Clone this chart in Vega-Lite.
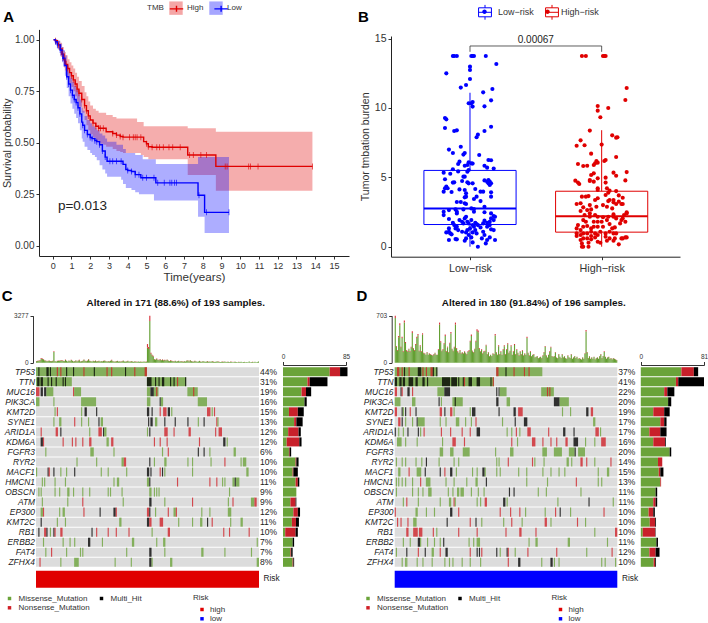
{"$schema":"https://vega.github.io/schema/vega-lite/v6.json","width":708,"height":623,"autosize":"none","padding":0,"background":"white",
"config":{"font":"Liberation Sans","view":{"stroke":null},"axis":{"grid":false,"labelOverlap":false,"labelBound":false,"labelFlush":false}},
"resolve":{"scale":{"x":"independent","y":"independent","fill":"independent","stroke":"independent"},"axis":{"x":"independent","y":"independent"},"legend":{"fill":"independent","stroke":"independent"}},
"datasets":{
"km":[
{"g":"High","t":0.05,"s":1,"lo":1,"hi":1,"c":0},{"g":"High","t":0.15,"s":0.995,"lo":0.985,"hi":1,"c":1},{"g":"High","t":0.25,"s":0.98,"lo":0.96,"hi":1,"c":0},{"g":"High","t":0.3,"s":0.975,"lo":0.95,"hi":0.995,"c":1},{"g":"High","t":0.4,"s":0.955,"lo":0.925,"hi":0.985,"c":0},{"g":"High","t":0.5,"s":0.93,"lo":0.895,"hi":0.965,"c":1},{"g":"High","t":0.6,"s":0.905,"lo":0.865,"hi":0.945,"c":0},{"g":"High","t":0.65,"s":0.895,"lo":0.85,"hi":0.94,"c":1},{"g":"High","t":0.7,"s":0.88,"lo":0.835,"hi":0.925,"c":0},{"g":"High","t":0.8,"s":0.86,"lo":0.81,"hi":0.905,"c":1},{"g":"High","t":0.9,"s":0.84,"lo":0.79,"hi":0.89,"c":0},{"g":"High","t":1,"s":0.825,"lo":0.77,"hi":0.875,"c":1},{"g":"High","t":1.1,"s":0.805,"lo":0.75,"hi":0.86,"c":1},{"g":"High","t":1.2,"s":0.785,"lo":0.725,"hi":0.84,"c":1},{"g":"High","t":1.3,"s":0.76,"lo":0.7,"hi":0.82,"c":1},{"g":"High","t":1.4,"s":0.74,"lo":0.675,"hi":0.8,"c":1},{"g":"High","t":1.55,"s":0.71,"lo":0.645,"hi":0.775,"c":1},{"g":"High","t":1.7,"s":0.68,"lo":0.61,"hi":0.745,"c":1},{"g":"High","t":1.8,"s":0.655,"lo":0.585,"hi":0.725,"c":1},{"g":"High","t":1.9,"s":0.63,"lo":0.56,"hi":0.7,"c":1},{"g":"High","t":2,"s":0.61,"lo":0.54,"hi":0.68,"c":0},{"g":"High","t":2.15,"s":0.595,"lo":0.525,"hi":0.665,"c":1},{"g":"High","t":2.3,"s":0.58,"lo":0.51,"hi":0.655,"c":1},{"g":"High","t":2.45,"s":0.57,"lo":0.5,"hi":0.645,"c":1},{"g":"High","t":2.55,"s":0.57,"lo":0.495,"hi":0.645,"c":1},{"g":"High","t":2.7,"s":0.57,"lo":0.49,"hi":0.645,"c":1},{"g":"High","t":2.85,"s":0.553,"lo":0.48,"hi":0.634,"c":0},{"g":"High","t":3.2,"s":0.545,"lo":0.47,"hi":0.625,"c":1},{"g":"High","t":3.4,"s":0.537,"lo":0.46,"hi":0.618,"c":1},{"g":"High","t":3.6,"s":0.53,"lo":0.455,"hi":0.618,"c":1},{"g":"High","t":3.75,"s":0.527,"lo":0.45,"hi":0.618,"c":1},{"g":"High","t":4.1,"s":0.527,"lo":0.45,"hi":0.618,"c":1},{"g":"High","t":4.3,"s":0.527,"lo":0.45,"hi":0.618,"c":1},{"g":"High","t":4.4,"s":0.527,"lo":0.45,"hi":0.618,"c":1},{"g":"High","t":4.5,"s":0.527,"lo":0.45,"hi":0.6,"c":1},{"g":"High","t":4.7,"s":0.527,"lo":0.44,"hi":0.6,"c":1},{"g":"High","t":4.85,"s":0.505,"lo":0.43,"hi":0.58,"c":0},{"g":"High","t":5,"s":0.495,"lo":0.43,"hi":0.58,"c":1},{"g":"High","t":5.1,"s":0.48,"lo":0.42,"hi":0.58,"c":1},{"g":"High","t":5.3,"s":0.478,"lo":0.42,"hi":0.58,"c":1},{"g":"High","t":5.55,"s":0.478,"lo":0.42,"hi":0.58,"c":1},{"g":"High","t":5.7,"s":0.478,"lo":0.42,"hi":0.58,"c":1},{"g":"High","t":5.9,"s":0.478,"lo":0.42,"hi":0.58,"c":1},{"g":"High","t":6.2,"s":0.478,"lo":0.42,"hi":0.58,"c":1},{"g":"High","t":6.4,"s":0.478,"lo":0.42,"hi":0.58,"c":1},{"g":"High","t":6.8,"s":0.478,"lo":0.42,"hi":0.58,"c":1},{"g":"High","t":7.2,"s":0.44,"lo":0.343,"hi":0.57,"c":0},{"g":"High","t":7.3,"s":0.44,"lo":0.343,"hi":0.57,"c":1},{"g":"High","t":7.5,"s":0.44,"lo":0.343,"hi":0.57,"c":1},{"g":"High","t":7.9,"s":0.44,"lo":0.343,"hi":0.57,"c":1},{"g":"High","t":8.2,"s":0.44,"lo":0.343,"hi":0.57,"c":1},{"g":"High","t":8.7,"s":0.385,"lo":0.267,"hi":0.553,"c":0},{"g":"High","t":9.2,"s":0.385,"lo":0.267,"hi":0.553,"c":1},{"g":"High","t":9.3,"s":0.385,"lo":0.267,"hi":0.553,"c":1},{"g":"High","t":10.45,"s":0.385,"lo":0.267,"hi":0.553,"c":1},{"g":"High","t":10.55,"s":0.385,"lo":0.267,"hi":0.553,"c":1},{"g":"High","t":10.95,"s":0.385,"lo":0.267,"hi":0.553,"c":1},{"g":"High","t":13.85,"s":0.385,"lo":0.267,"hi":0.553,"c":1},
{"g":"Low","t":0.05,"s":1,"lo":1,"hi":1,"c":0},{"g":"Low","t":0.15,"s":0.99,"lo":0.98,"hi":1,"c":1},{"g":"Low","t":0.25,"s":0.975,"lo":0.955,"hi":0.995,"c":1},{"g":"Low","t":0.4,"s":0.95,"lo":0.92,"hi":0.98,"c":1},{"g":"Low","t":0.5,"s":0.93,"lo":0.89,"hi":0.965,"c":0},{"g":"Low","t":0.55,"s":0.91,"lo":0.87,"hi":0.95,"c":1},{"g":"Low","t":0.65,"s":0.875,"lo":0.825,"hi":0.925,"c":0},{"g":"Low","t":0.75,"s":0.82,"lo":0.765,"hi":0.875,"c":1},{"g":"Low","t":0.85,"s":0.785,"lo":0.725,"hi":0.845,"c":1},{"g":"Low","t":0.95,"s":0.755,"lo":0.69,"hi":0.815,"c":1},{"g":"Low","t":1.05,"s":0.73,"lo":0.665,"hi":0.795,"c":1},{"g":"Low","t":1.15,"s":0.71,"lo":0.64,"hi":0.775,"c":1},{"g":"Low","t":1.25,"s":0.695,"lo":0.62,"hi":0.76,"c":1},{"g":"Low","t":1.35,"s":0.67,"lo":0.595,"hi":0.74,"c":1},{"g":"Low","t":1.45,"s":0.64,"lo":0.56,"hi":0.71,"c":1},{"g":"Low","t":1.55,"s":0.6,"lo":0.52,"hi":0.67,"c":0},{"g":"Low","t":1.6,"s":0.585,"lo":0.505,"hi":0.655,"c":1},{"g":"Low","t":1.7,"s":0.56,"lo":0.48,"hi":0.63,"c":1},{"g":"Low","t":1.85,"s":0.54,"lo":0.465,"hi":0.61,"c":1},{"g":"Low","t":2,"s":0.525,"lo":0.45,"hi":0.595,"c":1},{"g":"Low","t":2.1,"s":0.52,"lo":0.44,"hi":0.58,"c":1},{"g":"Low","t":2.25,"s":0.51,"lo":0.43,"hi":0.57,"c":1},{"g":"Low","t":2.35,"s":0.505,"lo":0.415,"hi":0.56,"c":1},{"g":"Low","t":2.5,"s":0.49,"lo":0.39,"hi":0.545,"c":1},{"g":"Low","t":2.65,"s":0.46,"lo":0.37,"hi":0.535,"c":1},{"g":"Low","t":2.8,"s":0.43,"lo":0.35,"hi":0.52,"c":1},{"g":"Low","t":2.9,"s":0.41,"lo":0.335,"hi":0.505,"c":0},{"g":"Low","t":3.05,"s":0.41,"lo":0.335,"hi":0.505,"c":1},{"g":"Low","t":3.2,"s":0.41,"lo":0.335,"hi":0.505,"c":1},{"g":"Low","t":3.4,"s":0.41,"lo":0.335,"hi":0.49,"c":1},{"g":"Low","t":3.65,"s":0.41,"lo":0.32,"hi":0.49,"c":1},{"g":"Low","t":3.75,"s":0.395,"lo":0.3,"hi":0.47,"c":0},{"g":"Low","t":3.9,"s":0.37,"lo":0.28,"hi":0.45,"c":0},{"g":"Low","t":4,"s":0.365,"lo":0.28,"hi":0.45,"c":1},{"g":"Low","t":4.2,"s":0.36,"lo":0.27,"hi":0.45,"c":1},{"g":"Low","t":4.4,"s":0.345,"lo":0.26,"hi":0.44,"c":1},{"g":"Low","t":4.6,"s":0.345,"lo":0.25,"hi":0.44,"c":1},{"g":"Low","t":4.7,"s":0.33,"lo":0.25,"hi":0.44,"c":0},{"g":"Low","t":4.8,"s":0.33,"lo":0.25,"hi":0.42,"c":1},{"g":"Low","t":5,"s":0.33,"lo":0.25,"hi":0.42,"c":1},{"g":"Low","t":5.4,"s":0.33,"lo":0.22,"hi":0.42,"c":1},{"g":"Low","t":5.5,"s":0.305,"lo":0.22,"hi":0.396,"c":0},{"g":"Low","t":5.6,"s":0.305,"lo":0.22,"hi":0.396,"c":1},{"g":"Low","t":5.95,"s":0.305,"lo":0.22,"hi":0.396,"c":1},{"g":"Low","t":6.25,"s":0.305,"lo":0.22,"hi":0.396,"c":1},{"g":"Low","t":6.35,"s":0.305,"lo":0.22,"hi":0.396,"c":1},{"g":"Low","t":6.5,"s":0.305,"lo":0.22,"hi":0.396,"c":1},{"g":"Low","t":6.6,"s":0.305,"lo":0.22,"hi":0.396,"c":1},{"g":"Low","t":7.75,"s":0.245,"lo":0.14,"hi":0.43,"c":0},{"g":"Low","t":7.8,"s":0.245,"lo":0.14,"hi":0.43,"c":1},{"g":"Low","t":8.1,"s":0.162,"lo":0.062,"hi":0.43,"c":0},{"g":"Low","t":8.2,"s":0.162,"lo":0.062,"hi":0.43,"c":1},{"g":"Low","t":9.4,"s":0.162,"lo":0.062,"hi":0.43,"c":1}
],
"box":[{"g":"Low−risk","pos":1,"xl":0.65,"xr":1.35,"lo":0,"q1":1.6,"med":2.75,"q3":5.5,"hi":11.1},{"g":"High−risk","pos":2,"xl":1.65,"xr":2.35,"lo":0,"q1":1.05,"med":2.2,"q3":4.0,"hi":8.4}],
"bracket":[{"x":1,"y":14.05},{"x":1,"y":14.47},{"x":2,"y":14.47},{"x":2,"y":14.05}],
"pts":[
{"g":"Low−risk","x":0.87,"y":13.75},{"g":"Low−risk","x":0.88,"y":13.75},{"g":"Low−risk","x":0.9,"y":13.75},{"g":"Low−risk","x":1.01,"y":13.75},{"g":"Low−risk","x":1.02,"y":13.75},{"g":"Low−risk","x":1.03,"y":13.75},{"g":"Low−risk","x":1.12,"y":13.75},{"g":"Low−risk","x":1.2,"y":13.17},{"g":"Low−risk","x":1,"y":12.98},{"g":"Low−risk","x":1,"y":12.74},{"g":"Low−risk","x":0.82,"y":12.5},{"g":"Low−risk","x":1,"y":12.09},{"g":"Low−risk","x":0.97,"y":11.66},{"g":"Low−risk","x":0.93,"y":11.47},{"g":"Low−risk","x":1.1,"y":11.13},{"g":"Low−risk","x":1.17,"y":11.37},{"g":"Low−risk","x":1.16,"y":10.55},{"g":"Low−risk","x":0.99,"y":10.34},{"g":"Low−risk","x":1.01,"y":10.34},{"g":"Low−risk","x":1.02,"y":10.43},{"g":"Low−risk","x":1.02,"y":10.1},{"g":"Low−risk","x":1.11,"y":10.12},{"g":"Low−risk","x":0.81,"y":9.28},{"g":"Low−risk","x":0.82,"y":9.18},{"g":"Low−risk","x":0.81,"y":8.56},{"g":"Low−risk","x":0.88,"y":8.34},{"g":"Low−risk","x":0.9,"y":8.39},{"g":"Low−risk","x":1.16,"y":8.65},{"g":"Low−risk","x":1.11,"y":8.34},{"g":"Low−risk","x":1.06,"y":8.08},{"g":"Low−risk","x":1.05,"y":7.89},{"g":"Low−risk","x":0.93,"y":7.21},{"g":"Low−risk","x":0.84,"y":7},{"g":"Low−risk","x":0.95,"y":6.64},{"g":"Low−risk","x":0.96,"y":6.76},{"g":"Low−risk","x":0.87,"y":6.76},{"g":"Low−risk","x":1.07,"y":6.61},{"g":"Low−risk","x":1.14,"y":6.25},{"g":"Low−risk","x":1.16,"y":6.23},{"g":"Low−risk","x":0.92,"y":6.13},{"g":"Low−risk","x":0.91,"y":5.96},{"g":"Low−risk","x":0.99,"y":6.08},{"g":"Low−risk","x":1.01,"y":6.01},{"g":"Low−risk","x":1.02,"y":5.99},{"g":"Low−risk","x":0.96,"y":5.84},{"g":"Low−risk","x":0.98,"y":5.89},{"g":"Low−risk","x":1.11,"y":5.84},{"g":"Low−risk","x":1.13,"y":5.7},{"g":"Low−risk","x":0.87,"y":5.58},{"g":"Low−risk","x":0.91,"y":5.43},{"g":"Low−risk","x":0.99,"y":5.53},{"g":"Low−risk","x":1.18,"y":5.63},{"g":"Low−risk","x":0.8,"y":5.34},{"g":"Low−risk","x":0.85,"y":5.26},{"g":"Low−risk","x":0.95,"y":5.05},{"g":"Low−risk","x":0.98,"y":5.41},{"g":"Low−risk","x":0.96,"y":5.05},{"g":"Low−risk","x":0.81,"y":4.86},{"g":"Low−risk","x":0.87,"y":4.62},{"g":"Low−risk","x":0.88,"y":4.64},{"g":"Low−risk","x":0.94,"y":4.74},{"g":"Low−risk","x":0.98,"y":4.64},{"g":"Low−risk","x":0.99,"y":4.57},{"g":"Low−risk","x":1.02,"y":4.57},{"g":"Low−risk","x":1.11,"y":4.78},{"g":"Low−risk","x":1.13,"y":4.69},{"g":"Low−risk","x":1.14,"y":4.81},{"g":"Low−risk","x":1.15,"y":4.69},{"g":"Low−risk","x":1.14,"y":4.57},{"g":"Low−risk","x":1.15,"y":4.45},{"g":"Low−risk","x":1.16,"y":4.57},{"g":"Low−risk","x":0.82,"y":4.33},{"g":"Low−risk","x":0.81,"y":4.21},{"g":"Low−risk","x":0.83,"y":4.21},{"g":"Low−risk","x":0.8,"y":3.97},{"g":"Low−risk","x":0.86,"y":3.94},{"g":"Low−risk","x":0.92,"y":4.13},{"g":"Low−risk","x":0.96,"y":4.09},{"g":"Low−risk","x":1.04,"y":4.16},{"g":"Low−risk","x":1.08,"y":3.97},{"g":"Low−risk","x":1.1,"y":3.97},{"g":"Low−risk","x":1.16,"y":3.92},{"g":"Low−risk","x":0.97,"y":3.85},{"g":"Low−risk","x":0.97,"y":3.61},{"g":"Low−risk","x":0.96,"y":3.56},{"g":"Low−risk","x":1.05,"y":3.61},{"g":"Low−risk","x":1.03,"y":3.44},{"g":"Low−risk","x":1.08,"y":3.29},{"g":"Low−risk","x":1.16,"y":3.61},{"g":"Low−risk","x":0.9,"y":3.22},{"g":"Low−risk","x":0.93,"y":3.22},{"g":"Low−risk","x":0.96,"y":3.13},{"g":"Low−risk","x":0.97,"y":3.08},{"g":"Low−risk","x":1.11,"y":2.88},{"g":"Low−risk","x":0.8,"y":2.52},{"g":"Low−risk","x":0.8,"y":2.28},{"g":"Low−risk","x":0.84,"y":2.64},{"g":"Low−risk","x":0.89,"y":2.69},{"g":"Low−risk","x":0.9,"y":2.4},{"g":"Low−risk","x":0.9,"y":2.52},{"g":"Low−risk","x":0.95,"y":2.69},{"g":"Low−risk","x":1.01,"y":2.76},{"g":"Low−risk","x":1.03,"y":2.72},{"g":"Low−risk","x":1.03,"y":2.52},{"g":"Low−risk","x":1.11,"y":2.48},{"g":"Low−risk","x":1.16,"y":2.4},{"g":"Low−risk","x":1.18,"y":2.21},{"g":"Low−risk","x":1.19,"y":2.16},{"g":"Low−risk","x":1.16,"y":2.04},{"g":"Low−risk","x":1.18,"y":1.92},{"g":"Low−risk","x":1.15,"y":1.8},{"g":"Low−risk","x":1.13,"y":1.73},{"g":"Low−risk","x":0.84,"y":2},{"g":"Low−risk","x":0.87,"y":1.73},{"g":"Low−risk","x":0.88,"y":1.56},{"g":"Low−risk","x":0.9,"y":1.44},{"g":"Low−risk","x":0.92,"y":1.92},{"g":"Low−risk","x":0.94,"y":1.8},{"g":"Low−risk","x":0.95,"y":1.68},{"g":"Low−risk","x":0.96,"y":2.04},{"g":"Low−risk","x":0.97,"y":2.16},{"g":"Low−risk","x":0.98,"y":1.8},{"g":"Low−risk","x":0.99,"y":1.68},{"g":"Low−risk","x":1,"y":1.32},{"g":"Low−risk","x":1.01,"y":1.92},{"g":"Low−risk","x":1.02,"y":1.56},{"g":"Low−risk","x":1.03,"y":1.44},{"g":"Low−risk","x":1.04,"y":1.73},{"g":"Low−risk","x":1.05,"y":1.63},{"g":"Low−risk","x":1.06,"y":1.56},{"g":"Low−risk","x":1.08,"y":1.39},{"g":"Low−risk","x":1.1,"y":1.68},{"g":"Low−risk","x":1.11,"y":1.88},{"g":"Low−risk","x":1.13,"y":1.44},{"g":"Low−risk","x":1.15,"y":1.56},{"g":"Low−risk","x":1.16,"y":1.25},{"g":"Low−risk","x":1.18,"y":1.2},{"g":"Low−risk","x":0.82,"y":1.03},{"g":"Low−risk","x":0.84,"y":1.08},{"g":"Low−risk","x":0.85,"y":0.96},{"g":"Low−risk","x":0.86,"y":0.89},{"g":"Low−risk","x":0.84,"y":1.32},{"g":"Low−risk","x":0.89,"y":1.32},{"g":"Low−risk","x":0.91,"y":1.2},{"g":"Low−risk","x":0.94,"y":1.08},{"g":"Low−risk","x":0.97,"y":1.03},{"g":"Low−risk","x":0.98,"y":1.2},{"g":"Low−risk","x":0.99,"y":0.84},{"g":"Low−risk","x":1.01,"y":0.67},{"g":"Low−risk","x":0.96,"y":0.43},{"g":"Low−risk","x":0.97,"y":0.6},{"g":"Low−risk","x":1.02,"y":1.03},{"g":"Low−risk","x":1.04,"y":1.2},{"g":"Low−risk","x":1.05,"y":0.96},{"g":"Low−risk","x":1.1,"y":1.08},{"g":"Low−risk","x":1.11,"y":0.84},{"g":"Low−risk","x":1.15,"y":0.67},{"g":"Low−risk","x":1.19,"y":0.48},{"g":"Low−risk","x":0.84,"y":0.48},{"g":"Low−risk","x":0.89,"y":0.55},{"g":"Low−risk","x":0.9,"y":0.53},{"g":"Low−risk","x":1.02,"y":0.31},{"g":"Low−risk","x":1.06,"y":0},{"g":"Low−risk","x":1.12,"y":0.24},{"g":"Low−risk","x":1.09,"y":0.6},{"g":"Low−risk","x":1.13,"y":0.48},
{"g":"High−risk","x":1.85,"y":13.75},{"g":"High−risk","x":1.88,"y":13.75},{"g":"High−risk","x":2.01,"y":13.75},{"g":"High−risk","x":2.02,"y":13.75},{"g":"High−risk","x":2.03,"y":13.75},{"g":"High−risk","x":2.19,"y":11.44},{"g":"High−risk","x":2.18,"y":10.58},{"g":"High−risk","x":1.97,"y":10.14},{"g":"High−risk","x":1.97,"y":9.81},{"g":"High−risk","x":2.05,"y":10},{"g":"High−risk","x":1.99,"y":9.33},{"g":"High−risk","x":1.91,"y":8.37},{"g":"High−risk","x":2.08,"y":8.03},{"g":"High−risk","x":2.11,"y":7.86},{"g":"High−risk","x":2.12,"y":7.89},{"g":"High−risk","x":1.84,"y":7.67},{"g":"High−risk","x":1.81,"y":7.28},{"g":"High−risk","x":1.87,"y":7.31},{"g":"High−risk","x":2,"y":7.36},{"g":"High−risk","x":1.92,"y":6.71},{"g":"High−risk","x":2.11,"y":6.47},{"g":"High−risk","x":2.03,"y":6.25},{"g":"High−risk","x":2.02,"y":6.18},{"g":"High−risk","x":1.96,"y":6.18},{"g":"High−risk","x":1.95,"y":6.01},{"g":"High−risk","x":1.97,"y":6.06},{"g":"High−risk","x":1.82,"y":5.96},{"g":"High−risk","x":1.86,"y":5.82},{"g":"High−risk","x":1.89,"y":5.84},{"g":"High−risk","x":1.94,"y":5.89},{"g":"High−risk","x":2.09,"y":5.34},{"g":"High−risk","x":2.19,"y":5.38},{"g":"High−risk","x":2.11,"y":5.12},{"g":"High−risk","x":1.92,"y":5.17},{"g":"High−risk","x":1.94,"y":5.29},{"g":"High−risk","x":1.91,"y":4.81},{"g":"High−risk","x":1.97,"y":4.93},{"g":"High−risk","x":2.03,"y":4.98},{"g":"High−risk","x":2.18,"y":4.78},{"g":"High−risk","x":1.8,"y":4.76},{"g":"High−risk","x":1.82,"y":4.62},{"g":"High−risk","x":1.83,"y":4.52},{"g":"High−risk","x":1.91,"y":4.74},{"g":"High−risk","x":1.94,"y":4.69},{"g":"High−risk","x":2.03,"y":4.62},{"g":"High−risk","x":1.97,"y":4.21},{"g":"High−risk","x":1.97,"y":4.09},{"g":"High−risk","x":2.04,"y":4.21},{"g":"High−risk","x":2.05,"y":3.89},{"g":"High−risk","x":2.06,"y":4.04},{"g":"High−risk","x":2.03,"y":3.73},{"g":"High−risk","x":2.11,"y":4.01},{"g":"High−risk","x":2.13,"y":3.7},{"g":"High−risk","x":2.09,"y":3.37},{"g":"High−risk","x":2.16,"y":3.53},{"g":"High−risk","x":2.06,"y":3.37},{"g":"High−risk","x":1.85,"y":3.61},{"g":"High−risk","x":1.88,"y":3.61},{"g":"High−risk","x":1.9,"y":3.65},{"g":"High−risk","x":1.95,"y":3.37},{"g":"High−risk","x":1.97,"y":3.49},{"g":"High−risk","x":2.01,"y":3},{"g":"High−risk","x":2.05,"y":3.29},{"g":"High−risk","x":2.09,"y":3.2},{"g":"High−risk","x":2.11,"y":3.08},{"g":"High−risk","x":2.13,"y":3.25},{"g":"High−risk","x":2.15,"y":3.08},{"g":"High−risk","x":2.16,"y":3.08},{"g":"High−risk","x":1.84,"y":3.13},{"g":"High−risk","x":1.81,"y":3.08},{"g":"High−risk","x":1.91,"y":3},{"g":"High−risk","x":1.92,"y":2.69},{"g":"High−risk","x":1.86,"y":2.84},{"g":"High−risk","x":1.89,"y":2.64},{"g":"High−risk","x":1.84,"y":2.57},{"g":"High−risk","x":1.91,"y":2.4},{"g":"High−risk","x":1.87,"y":2.28},{"g":"High−risk","x":1.96,"y":2.88},{"g":"High−risk","x":2.04,"y":2.88},{"g":"High−risk","x":2.08,"y":2.76},{"g":"High−risk","x":2.19,"y":2.4},{"g":"High−risk","x":2.17,"y":2.28},{"g":"High−risk","x":2.19,"y":2.48},{"g":"High−risk","x":2.09,"y":2.33},{"g":"High−risk","x":2.11,"y":2.04},{"g":"High−risk","x":2.15,"y":1.92},{"g":"High−risk","x":2.16,"y":2.04},{"g":"High−risk","x":2.14,"y":1.68},{"g":"High−risk","x":2.18,"y":1.8},{"g":"High−risk","x":1.95,"y":2.28},{"g":"High−risk","x":1.97,"y":2.16},{"g":"High−risk","x":2.01,"y":2.12},{"g":"High−risk","x":2.05,"y":2.16},{"g":"High−risk","x":2.09,"y":2.16},{"g":"High−risk","x":1.86,"y":1.92},{"g":"High−risk","x":1.88,"y":1.8},{"g":"High−risk","x":1.91,"y":2.16},{"g":"High−risk","x":1.94,"y":1.8},{"g":"High−risk","x":1.97,"y":1.8},{"g":"High−risk","x":2,"y":1.8},{"g":"High−risk","x":2.04,"y":1.92},{"g":"High−risk","x":2.06,"y":1.63},{"g":"High−risk","x":1.82,"y":1.56},{"g":"High−risk","x":1.81,"y":1.32},{"g":"High−risk","x":1.84,"y":1.2},{"g":"High−risk","x":1.86,"y":1.44},{"g":"High−risk","x":1.89,"y":1.49},{"g":"High−risk","x":1.92,"y":1.32},{"g":"High−risk","x":1.94,"y":1.44},{"g":"High−risk","x":1.97,"y":1.44},{"g":"High−risk","x":2.01,"y":1.44},{"g":"High−risk","x":2.08,"y":1.32},{"g":"High−risk","x":2.1,"y":1.39},{"g":"High−risk","x":1.81,"y":0.96},{"g":"High−risk","x":1.81,"y":0.77},{"g":"High−risk","x":1.84,"y":0.84},{"g":"High−risk","x":1.86,"y":0.96},{"g":"High−risk","x":1.89,"y":0.96},{"g":"High−risk","x":1.92,"y":1.08},{"g":"High−risk","x":1.95,"y":0.96},{"g":"High−risk","x":1.97,"y":0.84},{"g":"High−risk","x":1.99,"y":1.08},{"g":"High−risk","x":2.03,"y":0.96},{"g":"High−risk","x":2.06,"y":1.08},{"g":"High−risk","x":2.09,"y":0.96},{"g":"High−risk","x":2.11,"y":0.96},{"g":"High−risk","x":2.15,"y":0.6},{"g":"High−risk","x":2.18,"y":0.67},{"g":"High−risk","x":2.19,"y":0.67},{"g":"High−risk","x":2.16,"y":0.6},{"g":"High−risk","x":1.86,"y":0.6},{"g":"High−risk","x":1.84,"y":0.48},{"g":"High−risk","x":1.89,"y":0.6},{"g":"High−risk","x":1.92,"y":0.77},{"g":"High−risk","x":1.95,"y":0.67},{"g":"High−risk","x":1.97,"y":0.36},{"g":"High−risk","x":2.03,"y":0.72},{"g":"High−risk","x":2.06,"y":0.6},{"g":"High−risk","x":2.1,"y":0.6},{"g":"High−risk","x":2.13,"y":0.17},{"g":"High−risk","x":1.85,"y":0.24},{"g":"High−risk","x":1.9,"y":0.29},{"g":"High−risk","x":1.86,"y":0},{"g":"High−risk","x":1.9,"y":0},{"g":"High−risk","x":1.85,"y":0},{"g":"High−risk","x":1.99,"y":0.29},{"g":"High−risk","x":2.04,"y":0.43},{"g":"High−risk","x":2.09,"y":0.43},{"g":"High−risk","x":1.92,"y":0.53}
],
"tmbC":[{"s":0,"m":95,"t":110},{"s":1,"m":115,"t":130},{"s":2,"m":135,"t":150},{"s":3,"m":160,"t":180},{"s":4,"m":270,"t":320},{"s":5,"m":260,"t":300},{"s":6,"m":225,"t":260},{"s":7,"m":150,"t":170},{"s":8,"m":130,"t":150},{"s":9,"m":105,"t":120},{"s":10,"m":115,"t":130},{"s":11,"m":140,"t":160},{"s":12,"m":105,"t":120},{"s":13,"m":95,"t":110},{"s":14,"m":120,"t":140},{"s":15,"m":750,"t":800},{"s":16,"m":105,"t":120},{"s":17,"m":80,"t":90},{"s":18,"m":115,"t":130},{"s":19,"m":130,"t":150},{"s":20,"m":140,"t":160},{"s":21,"m":150,"t":170},{"s":22,"m":160,"t":180},{"s":23,"m":125,"t":140},{"s":24,"m":95,"t":110},{"s":25,"m":195,"t":220},{"s":26,"m":115,"t":130},{"s":27,"m":80,"t":90},{"s":28,"m":130,"t":150},{"s":29,"m":95,"t":110},{"s":30,"m":185,"t":210},{"s":31,"m":115,"t":130},{"s":32,"m":80,"t":90},{"s":33,"m":105,"t":120},{"s":34,"m":150,"t":170},{"s":35,"m":90,"t":100},{"s":36,"m":130,"t":150},{"s":37,"m":175,"t":200},{"s":38,"m":80,"t":90},{"s":39,"m":105,"t":120},{"s":40,"m":125,"t":140},{"s":41,"m":205,"t":230},{"s":42,"m":115,"t":130},{"s":43,"m":95,"t":110},{"s":44,"m":130,"t":150},{"s":45,"m":230,"t":260},{"s":46,"m":125,"t":140},{"s":47,"m":95,"t":110},{"s":48,"m":80,"t":90},{"s":49,"m":115,"t":130},{"s":50,"m":105,"t":120},{"s":51,"m":140,"t":160},{"s":52,"m":90,"t":100},{"s":53,"m":95,"t":110},{"s":54,"m":125,"t":140},{"s":55,"m":80,"t":90},{"s":56,"m":105,"t":120},{"s":57,"m":90,"t":100},{"s":58,"m":115,"t":130},{"s":59,"m":130,"t":150},{"s":60,"m":95,"t":110},{"s":61,"m":80,"t":90},{"s":62,"m":105,"t":120},{"s":63,"m":90,"t":100},{"s":64,"m":125,"t":140},{"s":65,"m":175,"t":200},{"s":66,"m":105,"t":120},{"s":67,"m":80,"t":90},{"s":68,"m":70,"t":80},{"s":69,"m":95,"t":110},{"s":70,"m":115,"t":130},{"s":71,"m":80,"t":90},{"s":72,"m":90,"t":100},{"s":73,"m":70,"t":80},{"s":74,"m":105,"t":120},{"s":75,"m":130,"t":150},{"s":76,"m":80,"t":90},{"s":77,"m":70,"t":80},{"s":78,"m":90,"t":100},{"s":79,"m":115,"t":130},{"s":80,"m":80,"t":90},{"s":81,"m":70,"t":80},{"s":82,"m":95,"t":110},{"s":83,"m":80,"t":90},{"s":84,"m":60,"t":70},{"s":85,"m":90,"t":100},{"s":86,"m":70,"t":80},{"s":87,"m":50,"t":60},{"s":88,"m":80,"t":90},{"s":89,"m":60,"t":70},{"s":90,"m":70,"t":80},{"s":91,"m":50,"t":60},{"s":92,"m":60,"t":70},{"s":93,"m":80,"t":90},{"s":94,"m":50,"t":60},{"s":95,"m":70,"t":80},{"s":96,"m":1050,"t":1300},{"s":97,"m":950,"t":1100},{"s":98,"m":2900,"t":3277},{"s":99,"m":620,"t":700},{"s":100,"m":500,"t":560},{"s":101,"m":430,"t":480},{"s":102,"m":230,"t":260},{"s":103,"m":205,"t":230},{"s":104,"m":265,"t":300},{"s":105,"m":185,"t":210},{"s":106,"m":175,"t":200},{"s":107,"m":230,"t":260},{"s":108,"m":170,"t":190},{"s":109,"m":210,"t":240},{"s":110,"m":160,"t":180},{"s":111,"m":185,"t":210},{"s":112,"m":150,"t":170},{"s":113,"m":205,"t":230},{"s":114,"m":130,"t":150},{"s":115,"m":105,"t":120},{"s":116,"m":160,"t":180},{"s":117,"m":125,"t":140},{"s":118,"m":105,"t":120},{"s":119,"m":90,"t":100},{"s":120,"m":115,"t":130},{"s":121,"m":80,"t":90},{"s":122,"m":95,"t":110},{"s":123,"m":125,"t":140},{"s":124,"m":80,"t":90},{"s":125,"m":105,"t":120},{"s":126,"m":90,"t":100},{"s":127,"m":70,"t":80},{"s":128,"m":95,"t":110},{"s":129,"m":80,"t":90},{"s":130,"m":130,"t":150},{"s":131,"m":150,"t":170},{"s":132,"m":90,"t":100},{"s":133,"m":170,"t":190},{"s":134,"m":105,"t":120},{"s":135,"m":80,"t":90},{"s":136,"m":70,"t":80},{"s":137,"m":125,"t":140},{"s":138,"m":90,"t":100},{"s":139,"m":60,"t":70},{"s":140,"m":80,"t":90},{"s":141,"m":115,"t":130},{"s":142,"m":70,"t":80},{"s":143,"m":60,"t":70},{"s":144,"m":105,"t":120},{"s":145,"m":80,"t":90},{"s":146,"m":60,"t":70},{"s":147,"m":70,"t":80},{"s":148,"m":95,"t":110},{"s":149,"m":50,"t":60},{"s":150,"m":80,"t":90},{"s":151,"m":60,"t":70},{"s":152,"m":105,"t":120},{"s":153,"m":70,"t":80},{"s":154,"m":50,"t":60},{"s":155,"m":60,"t":70},{"s":156,"m":80,"t":90},{"s":157,"m":90,"t":100},{"s":158,"m":50,"t":60},{"s":159,"m":42,"t":50},{"s":160,"m":60,"t":70},{"s":161,"m":70,"t":80},{"s":162,"m":50,"t":60},{"s":163,"m":80,"t":90},{"s":164,"m":42,"t":50},{"s":165,"m":50,"t":60},{"s":166,"m":60,"t":70},{"s":167,"m":42,"t":50},{"s":168,"m":70,"t":80},{"s":169,"m":50,"t":60},{"s":170,"m":34,"t":40},{"s":171,"m":50,"t":60},{"s":172,"m":60,"t":70},{"s":173,"m":42,"t":50},{"s":174,"m":34,"t":40},{"s":175,"m":50,"t":60},{"s":176,"m":42,"t":50},{"s":177,"m":60,"t":70},{"s":178,"m":34,"t":40},{"s":179,"m":42,"t":50},{"s":180,"m":50,"t":60},{"s":181,"m":34,"t":40},{"s":182,"m":42,"t":50},{"s":183,"m":34,"t":40},{"s":184,"m":80,"t":90},{"s":185,"m":34,"t":40},{"s":186,"m":42,"t":50},{"s":187,"m":50,"t":60},{"s":188,"m":34,"t":40},{"s":189,"m":60,"t":70},{"s":190,"m":34,"t":40},{"s":191,"m":42,"t":50},{"s":192,"m":80,"t":90}],
"tmbD":[{"s":0,"m":670,"t":703},{"s":1,"m":238,"t":250},{"s":2,"m":180,"t":190},{"s":3,"m":380,"t":400},{"s":4,"m":560,"t":590},{"s":5,"m":228,"t":240},{"s":6,"m":370,"t":390},{"s":7,"m":160,"t":170},{"s":8,"m":600,"t":630},{"s":9,"m":295,"t":310},{"s":10,"m":180,"t":190},{"s":11,"m":160,"t":170},{"s":12,"m":200,"t":210},{"s":13,"m":160,"t":170},{"s":14,"m":228,"t":240},{"s":15,"m":445,"t":470},{"s":16,"m":210,"t":220},{"s":17,"m":180,"t":190},{"s":18,"m":265,"t":280},{"s":19,"m":370,"t":390},{"s":20,"m":410,"t":430},{"s":21,"m":170,"t":180},{"s":22,"m":245,"t":260},{"s":23,"m":160,"t":170},{"s":24,"m":420,"t":440},{"s":25,"m":142,"t":150},{"s":26,"m":133,"t":140},{"s":27,"m":114,"t":120},{"s":28,"m":152,"t":160},{"s":29,"m":114,"t":120},{"s":30,"m":133,"t":140},{"s":31,"m":123,"t":130},{"s":32,"m":114,"t":120},{"s":33,"m":104,"t":110},{"s":34,"m":123,"t":130},{"s":35,"m":142,"t":150},{"s":36,"m":114,"t":120},{"s":37,"m":114,"t":120},{"s":38,"m":190,"t":200},{"s":39,"m":570,"t":600},{"s":40,"m":305,"t":320},{"s":41,"m":170,"t":180},{"s":42,"m":190,"t":200},{"s":43,"m":275,"t":290},{"s":44,"m":400,"t":420},{"s":45,"m":160,"t":170},{"s":46,"m":228,"t":240},{"s":47,"m":152,"t":160},{"s":48,"m":285,"t":300},{"s":49,"m":437,"t":460},{"s":50,"m":200,"t":210},{"s":51,"m":170,"t":180},{"s":52,"m":228,"t":240},{"s":53,"m":570,"t":600},{"s":54,"m":210,"t":220},{"s":55,"m":160,"t":170},{"s":56,"m":142,"t":150},{"s":57,"m":180,"t":190},{"s":58,"m":133,"t":140},{"s":59,"m":152,"t":160},{"s":60,"m":133,"t":140},{"s":61,"m":160,"t":170},{"s":62,"m":142,"t":150},{"s":63,"m":123,"t":130},{"s":64,"m":160,"t":170},{"s":65,"m":180,"t":190},{"s":66,"m":313,"t":330},{"s":67,"m":400,"t":420},{"s":68,"m":170,"t":180},{"s":69,"m":152,"t":160},{"s":70,"m":200,"t":210},{"s":71,"m":313,"t":330},{"s":72,"m":475,"t":500},{"s":73,"m":456,"t":480},{"s":74,"m":210,"t":220},{"s":75,"m":160,"t":170},{"s":76,"m":190,"t":200},{"s":77,"m":133,"t":140},{"s":78,"m":160,"t":170},{"s":79,"m":170,"t":180},{"s":80,"m":256,"t":270},{"s":81,"m":123,"t":130},{"s":82,"m":152,"t":160},{"s":83,"m":95,"t":100},{"s":84,"m":114,"t":120},{"s":85,"m":95,"t":100},{"s":86,"m":133,"t":140},{"s":87,"m":123,"t":130},{"s":88,"m":408,"t":430},{"s":89,"m":152,"t":160},{"s":90,"m":114,"t":120},{"s":91,"m":247,"t":260},{"s":92,"m":123,"t":130},{"s":93,"m":160,"t":170},{"s":94,"m":114,"t":120},{"s":95,"m":190,"t":200},{"s":96,"m":247,"t":260},{"s":97,"m":123,"t":130},{"s":98,"m":190,"t":200},{"s":99,"m":275,"t":290},{"s":100,"m":142,"t":150},{"s":101,"m":170,"t":180},{"s":102,"m":247,"t":260},{"s":103,"m":114,"t":120},{"s":104,"m":160,"t":170},{"s":105,"m":265,"t":280},{"s":106,"m":123,"t":130},{"s":107,"m":190,"t":200},{"s":108,"m":142,"t":150},{"s":109,"m":104,"t":110},{"s":110,"m":160,"t":170},{"s":111,"m":123,"t":130},{"s":112,"m":180,"t":190},{"s":113,"m":104,"t":110},{"s":114,"m":133,"t":140},{"s":115,"m":114,"t":120},{"s":116,"m":370,"t":390},{"s":117,"m":142,"t":150},{"s":118,"m":104,"t":110},{"s":119,"m":160,"t":170},{"s":120,"m":95,"t":100},{"s":121,"m":114,"t":120},{"s":122,"m":123,"t":130},{"s":123,"m":76,"t":80},{"s":124,"m":85,"t":90},{"s":125,"m":95,"t":100},{"s":126,"m":66,"t":70},{"s":127,"m":76,"t":80},{"s":128,"m":85,"t":90},{"s":129,"m":66,"t":70},{"s":130,"m":104,"t":110},{"s":131,"m":152,"t":160},{"s":132,"m":238,"t":250},{"s":133,"m":104,"t":110},{"s":134,"m":76,"t":80},{"s":135,"m":114,"t":120},{"s":136,"m":160,"t":170},{"s":137,"m":228,"t":240},{"s":138,"m":95,"t":100},{"s":139,"m":85,"t":90},{"s":140,"m":95,"t":100},{"s":141,"m":152,"t":160},{"s":142,"m":76,"t":80},{"s":143,"m":66,"t":70},{"s":144,"m":123,"t":130},{"s":145,"m":85,"t":90},{"s":146,"m":66,"t":70},{"s":147,"m":123,"t":130},{"s":148,"m":76,"t":80},{"s":149,"m":95,"t":100},{"s":150,"m":66,"t":70},{"s":151,"m":57,"t":60},{"s":152,"m":104,"t":110},{"s":153,"m":76,"t":80},{"s":154,"m":66,"t":70},{"s":155,"m":123,"t":130},{"s":156,"m":57,"t":60},{"s":157,"m":76,"t":80},{"s":158,"m":95,"t":100},{"s":159,"m":66,"t":70},{"s":160,"m":85,"t":90},{"s":161,"m":57,"t":60},{"s":162,"m":66,"t":70},{"s":163,"m":57,"t":60},{"s":164,"m":47,"t":50},{"s":165,"m":76,"t":80},{"s":166,"m":57,"t":60},{"s":167,"m":133,"t":140},{"s":168,"m":465,"t":490},{"s":169,"m":152,"t":160},{"s":170,"m":66,"t":70},{"s":171,"m":95,"t":100},{"s":172,"m":57,"t":60},{"s":173,"m":76,"t":80},{"s":174,"m":57,"t":60},{"s":175,"m":85,"t":90},{"s":176,"m":47,"t":50},{"s":177,"m":66,"t":70},{"s":178,"m":76,"t":80},{"s":179,"m":57,"t":60},{"s":180,"m":95,"t":100},{"s":181,"m":123,"t":130},{"s":182,"m":66,"t":70},{"s":183,"m":95,"t":100},{"s":184,"m":160,"t":170},{"s":185,"m":85,"t":90},{"s":186,"m":57,"t":60},{"s":187,"m":76,"t":80},{"s":188,"m":85,"t":90},{"s":189,"m":57,"t":60},{"s":190,"m":66,"t":70},{"s":191,"m":47,"t":50},{"s":192,"m":66,"t":70},{"s":193,"m":57,"t":60},{"s":194,"m":47,"t":50},{"s":195,"m":38,"t":40}],
"genesC":[{"g":"TP53","pct":"44%"},{"g":"TTN","pct":"31%"},{"g":"MUC16","pct":"19%"},{"g":"PIK3CA","pct":"16%"},{"g":"KMT2D","pct":"15%"},{"g":"SYNE1","pct":"13%"},{"g":"ARID1A","pct":"12%"},{"g":"KDM6A","pct":"12%"},{"g":"FGFR3","pct":"6%"},{"g":"RYR2","pct":"10%"},{"g":"MACF1","pct":"10%"},{"g":"HMCN1","pct":"11%"},{"g":"OBSCN","pct":"9%"},{"g":"ATM","pct":"9%"},{"g":"EP300","pct":"12%"},{"g":"KMT2C","pct":"11%"},{"g":"RB1","pct":"10%"},{"g":"ERBB2","pct":"7%"},{"g":"FAT4","pct":"7%"},{"g":"ZFHX4","pct":"8%"}],
"genesD":[{"g":"TP53","pct":"37%"},{"g":"TTN","pct":"41%"},{"g":"MUC16","pct":"22%"},{"g":"PIK3CA","pct":"20%"},{"g":"KMT2D","pct":"19%"},{"g":"SYNE1","pct":"17%"},{"g":"ARID1A","pct":"17%"},{"g":"KDM6A","pct":"16%"},{"g":"FGFR3","pct":"20%"},{"g":"RYR2","pct":"14%"},{"g":"MACF1","pct":"15%"},{"g":"HMCN1","pct":"13%"},{"g":"OBSCN","pct":"11%"},{"g":"ATM","pct":"11%"},{"g":"EP300","pct":"10%"},{"g":"KMT2C","pct":"10%"},{"g":"RB1","pct":"10%"},{"g":"ERBB2","pct":"11%"},{"g":"FAT4","pct":"12%"},{"g":"ZFHX4","pct":"10%"}],
"cellsC":[
{"g":"TP53","a":0,"b":96,"t":"M"},{"g":"TP53","a":2,"b":3,"t":"H"},{"g":"TP53","a":9,"b":11,"t":"H"},{"g":"TP53","a":12,"b":13,"t":"H"},{"g":"TP53","a":18,"b":19,"t":"N"},{"g":"TP53","a":21,"b":22,"t":"N"},{"g":"TP53","a":26,"b":27,"t":"H"},{"g":"TP53","a":32,"b":33,"t":"H"},{"g":"TP53","a":41,"b":42,"t":"N"},{"g":"TP53","a":50,"b":51,"t":"H"},{"g":"TP53","a":61,"b":62,"t":"N"},{"g":"TP53","a":65,"b":66,"t":"N"},{"g":"TP53","a":77,"b":78,"t":"H"},{"g":"TP53","a":85,"b":86,"t":"N"},{"g":"TP53","a":94,"b":96,"t":"N"},
{"g":"TTN","a":0,"b":31,"t":"M"},{"g":"TTN","a":96,"b":130,"t":"M"},{"g":"TTN","a":1,"b":3,"t":"H"},{"g":"TTN","a":4,"b":6,"t":"H"},{"g":"TTN","a":10,"b":11,"t":"H"},{"g":"TTN","a":13,"b":14,"t":"H"},{"g":"TTN","a":17,"b":18,"t":"H"},{"g":"TTN","a":23,"b":24,"t":"H"},{"g":"TTN","a":25,"b":26,"t":"H"},{"g":"TTN","a":96,"b":100,"t":"H"},{"g":"TTN","a":103,"b":104,"t":"H"},{"g":"TTN","a":106,"b":107,"t":"H"},{"g":"TTN","a":109,"b":111,"t":"H"},{"g":"TTN","a":116,"b":117,"t":"H"},{"g":"TTN","a":119,"b":120,"t":"H"},{"g":"TTN","a":122,"b":123,"t":"N"},{"g":"TTN","a":129,"b":130,"t":"H"},
{"g":"MUC16","a":0,"b":3,"t":"N"},{"g":"MUC16","a":4,"b":6,"t":"H"},{"g":"MUC16","a":7,"b":9,"t":"H"},{"g":"MUC16","a":9,"b":15,"t":"M"},{"g":"MUC16","a":32,"b":33,"t":"N"},{"g":"MUC16","a":33,"b":39,"t":"M"},{"g":"MUC16","a":96,"b":99,"t":"M"},{"g":"MUC16","a":99,"b":102,"t":"H"},{"g":"MUC16","a":102,"b":106,"t":"M"},{"g":"MUC16","a":104,"b":105,"t":"N"},{"g":"MUC16","a":131,"b":140,"t":"M"},{"g":"MUC16","a":136,"b":137,"t":"N"},
{"g":"PIK3CA","a":0,"b":3,"t":"M"},{"g":"PIK3CA","a":15,"b":16,"t":"M"},{"g":"PIK3CA","a":39,"b":52,"t":"M"},{"g":"PIK3CA","a":96,"b":99,"t":"M"},{"g":"PIK3CA","a":107,"b":108,"t":"H"},{"g":"PIK3CA","a":108,"b":110,"t":"M"},{"g":"PIK3CA","a":140,"b":148,"t":"M"},
{"g":"KMT2D","a":16,"b":17,"t":"M"},{"g":"KMT2D","a":18,"b":19,"t":"N"},{"g":"KMT2D","a":39,"b":40,"t":"M"},{"g":"KMT2D","a":42,"b":44,"t":"H"},{"g":"KMT2D","a":52,"b":53,"t":"H"},{"g":"KMT2D","a":96,"b":98,"t":"H"},{"g":"KMT2D","a":100,"b":101,"t":"H"},{"g":"KMT2D","a":107,"b":108,"t":"N"},{"g":"KMT2D","a":110,"b":113,"t":"N"},{"g":"KMT2D","a":114,"b":116,"t":"H"},{"g":"KMT2D","a":117,"b":118,"t":"M"},{"g":"KMT2D","a":148,"b":151,"t":"N"},{"g":"KMT2D","a":152,"b":153,"t":"M"},{"g":"KMT2D","a":154,"b":155,"t":"N"},
{"g":"SYNE1","a":15,"b":16,"t":"M"},{"g":"SYNE1","a":20,"b":22,"t":"M"},{"g":"SYNE1","a":33,"b":34,"t":"N"},{"g":"SYNE1","a":39,"b":40,"t":"M"},{"g":"SYNE1","a":45,"b":46,"t":"M"},{"g":"SYNE1","a":54,"b":55,"t":"H"},{"g":"SYNE1","a":56,"b":58,"t":"M"},{"g":"SYNE1","a":97,"b":98,"t":"H"},{"g":"SYNE1","a":99,"b":101,"t":"H"},{"g":"SYNE1","a":103,"b":105,"t":"M"},{"g":"SYNE1","a":111,"b":112,"t":"H"},{"g":"SYNE1","a":120,"b":121,"t":"H"},{"g":"SYNE1","a":131,"b":132,"t":"H"},{"g":"SYNE1","a":140,"b":141,"t":"M"},{"g":"SYNE1","a":145,"b":146,"t":"H"},{"g":"SYNE1","a":156,"b":157,"t":"N"},{"g":"SYNE1","a":157,"b":158,"t":"M"},
{"g":"ARID1A","a":4,"b":5,"t":"N"},{"g":"ARID1A","a":17,"b":19,"t":"N"},{"g":"ARID1A","a":21,"b":22,"t":"H"},{"g":"ARID1A","a":46,"b":47,"t":"M"},{"g":"ARID1A","a":54,"b":57,"t":"N"},{"g":"ARID1A","a":58,"b":59,"t":"H"},{"g":"ARID1A","a":59,"b":61,"t":"M"},{"g":"ARID1A","a":96,"b":97,"t":"M"},{"g":"ARID1A","a":98,"b":99,"t":"H"},{"g":"ARID1A","a":111,"b":114,"t":"N"},{"g":"ARID1A","a":119,"b":120,"t":"N"},{"g":"ARID1A","a":132,"b":134,"t":"N"},{"g":"ARID1A","a":155,"b":156,"t":"N"},{"g":"ARID1A","a":158,"b":161,"t":"N"},
{"g":"KDM6A","a":4,"b":6,"t":"H"},{"g":"KDM6A","a":6,"b":7,"t":"N"},{"g":"KDM6A","a":23,"b":24,"t":"N"},{"g":"KDM6A","a":31,"b":32,"t":"N"},{"g":"KDM6A","a":34,"b":35,"t":"N"},{"g":"KDM6A","a":40,"b":41,"t":"N"},{"g":"KDM6A","a":46,"b":48,"t":"N"},{"g":"KDM6A","a":61,"b":63,"t":"M"},{"g":"KDM6A","a":65,"b":67,"t":"N"},{"g":"KDM6A","a":102,"b":103,"t":"N"},{"g":"KDM6A","a":107,"b":108,"t":"N"},{"g":"KDM6A","a":113,"b":114,"t":"N"},{"g":"KDM6A","a":141,"b":142,"t":"N"},{"g":"KDM6A","a":162,"b":164,"t":"H"},{"g":"KDM6A","a":165,"b":166,"t":"M"},
{"g":"FGFR3","a":8,"b":9,"t":"M"},{"g":"FGFR3","a":47,"b":50,"t":"M"},{"g":"FGFR3","a":67,"b":68,"t":"M"},{"g":"FGFR3","a":109,"b":110,"t":"M"},{"g":"FGFR3","a":114,"b":115,"t":"N"},{"g":"FGFR3","a":140,"b":141,"t":"H"},{"g":"FGFR3","a":145,"b":146,"t":"H"},{"g":"FGFR3","a":150,"b":151,"t":"M"},{"g":"FGFR3","a":171,"b":173,"t":"M"},
{"g":"RYR2","a":35,"b":36,"t":"M"},{"g":"RYR2","a":52,"b":53,"t":"M"},{"g":"RYR2","a":74,"b":76,"t":"M"},{"g":"RYR2","a":76,"b":78,"t":"N"},{"g":"RYR2","a":98,"b":99,"t":"H"},{"g":"RYR2","a":102,"b":103,"t":"M"},{"g":"RYR2","a":111,"b":113,"t":"M"},{"g":"RYR2","a":131,"b":132,"t":"M"},{"g":"RYR2","a":135,"b":136,"t":"M"},{"g":"RYR2","a":151,"b":152,"t":"M"},{"g":"RYR2","a":163,"b":164,"t":"N"},{"g":"RYR2","a":177,"b":178,"t":"M"},{"g":"RYR2","a":179,"b":182,"t":"M"},
{"g":"MACF1","a":0,"b":1,"t":"M"},{"g":"MACF1","a":10,"b":11,"t":"H"},{"g":"MACF1","a":11,"b":12,"t":"N"},{"g":"MACF1","a":15,"b":16,"t":"H"},{"g":"MACF1","a":21,"b":22,"t":"M"},{"g":"MACF1","a":26,"b":27,"t":"M"},{"g":"MACF1","a":33,"b":34,"t":"H"},{"g":"MACF1","a":56,"b":57,"t":"M"},{"g":"MACF1","a":62,"b":63,"t":"M"},{"g":"MACF1","a":78,"b":79,"t":"M"},{"g":"MACF1","a":96,"b":98,"t":"H"},{"g":"MACF1","a":99,"b":100,"t":"H"},{"g":"MACF1","a":107,"b":108,"t":"N"},{"g":"MACF1","a":109,"b":110,"t":"H"},{"g":"MACF1","a":111,"b":112,"t":"M"},{"g":"MACF1","a":135,"b":136,"t":"M"},{"g":"MACF1","a":182,"b":184,"t":"M"},
{"g":"HMCN1","a":5,"b":6,"t":"M"},{"g":"HMCN1","a":7,"b":8,"t":"M"},{"g":"HMCN1","a":16,"b":17,"t":"M"},{"g":"HMCN1","a":25,"b":26,"t":"M"},{"g":"HMCN1","a":67,"b":68,"t":"M"},{"g":"HMCN1","a":70,"b":72,"t":"M"},{"g":"HMCN1","a":96,"b":98,"t":"M"},{"g":"HMCN1","a":98,"b":99,"t":"H"},{"g":"HMCN1","a":122,"b":123,"t":"N"},{"g":"HMCN1","a":150,"b":151,"t":"N"},{"g":"HMCN1","a":156,"b":157,"t":"N"},{"g":"HMCN1","a":161,"b":162,"t":"M"},{"g":"HMCN1","a":163,"b":164,"t":"M"},{"g":"HMCN1","a":170,"b":172,"t":"M"},{"g":"HMCN1","a":172,"b":173,"t":"H"},{"g":"HMCN1","a":173,"b":176,"t":"M"},
{"g":"OBSCN","a":2,"b":3,"t":"M"},{"g":"OBSCN","a":4,"b":5,"t":"M"},{"g":"OBSCN","a":16,"b":17,"t":"M"},{"g":"OBSCN","a":20,"b":21,"t":"M"},{"g":"OBSCN","a":27,"b":29,"t":"M"},{"g":"OBSCN","a":32,"b":33,"t":"M"},{"g":"OBSCN","a":40,"b":41,"t":"M"},{"g":"OBSCN","a":46,"b":47,"t":"M"},{"g":"OBSCN","a":62,"b":63,"t":"M"},{"g":"OBSCN","a":64,"b":65,"t":"M"},{"g":"OBSCN","a":74,"b":75,"t":"M"},{"g":"OBSCN","a":98,"b":100,"t":"M"},{"g":"OBSCN","a":102,"b":103,"t":"M"},{"g":"OBSCN","a":104,"b":105,"t":"M"},{"g":"OBSCN","a":106,"b":107,"t":"M"},{"g":"OBSCN","a":167,"b":168,"t":"M"},
{"g":"ATM","a":5,"b":6,"t":"M"},{"g":"ATM","a":27,"b":28,"t":"M"},{"g":"ATM","a":40,"b":41,"t":"N"},{"g":"ATM","a":75,"b":76,"t":"M"},{"g":"ATM","a":98,"b":100,"t":"H"},{"g":"ATM","a":111,"b":112,"t":"M"},{"g":"ATM","a":135,"b":136,"t":"N"},{"g":"ATM","a":166,"b":167,"t":"M"},{"g":"ATM","a":170,"b":171,"t":"N"},{"g":"ATM","a":186,"b":189,"t":"M"},{"g":"ATM","a":189,"b":191,"t":"N"},
{"g":"EP300","a":4,"b":6,"t":"M"},{"g":"EP300","a":6,"b":7,"t":"N"},{"g":"EP300","a":20,"b":21,"t":"M"},{"g":"EP300","a":23,"b":25,"t":"M"},{"g":"EP300","a":41,"b":42,"t":"N"},{"g":"EP300","a":55,"b":56,"t":"H"},{"g":"EP300","a":67,"b":69,"t":"H"},{"g":"EP300","a":69,"b":70,"t":"N"},{"g":"EP300","a":96,"b":98,"t":"N"},{"g":"EP300","a":98,"b":99,"t":"H"},{"g":"EP300","a":103,"b":104,"t":"M"},{"g":"EP300","a":114,"b":115,"t":"N"},{"g":"EP300","a":119,"b":121,"t":"M"},{"g":"EP300","a":121,"b":122,"t":"N"},{"g":"EP300","a":143,"b":144,"t":"M"},{"g":"EP300","a":150,"b":151,"t":"M"},{"g":"EP300","a":166,"b":169,"t":"M"},
{"g":"KMT2C","a":4,"b":5,"t":"H"},{"g":"KMT2C","a":18,"b":19,"t":"M"},{"g":"KMT2C","a":25,"b":26,"t":"M"},{"g":"KMT2C","a":72,"b":74,"t":"M"},{"g":"KMT2C","a":96,"b":98,"t":"H"},{"g":"KMT2C","a":98,"b":100,"t":"N"},{"g":"KMT2C","a":107,"b":110,"t":"N"},{"g":"KMT2C","a":123,"b":124,"t":"M"},{"g":"KMT2C","a":135,"b":136,"t":"M"},{"g":"KMT2C","a":142,"b":144,"t":"M"},{"g":"KMT2C","a":148,"b":149,"t":"H"},{"g":"KMT2C","a":152,"b":153,"t":"N"},{"g":"KMT2C","a":168,"b":169,"t":"M"},{"g":"KMT2C","a":177,"b":179,"t":"M"},
{"g":"RB1","a":2,"b":3,"t":"H"},{"g":"RB1","a":7,"b":9,"t":"N"},{"g":"RB1","a":9,"b":10,"t":"H"},{"g":"RB1","a":12,"b":13,"t":"M"},{"g":"RB1","a":15,"b":16,"t":"H"},{"g":"RB1","a":16,"b":17,"t":"N"},{"g":"RB1","a":21,"b":23,"t":"N"},{"g":"RB1","a":48,"b":49,"t":"H"},{"g":"RB1","a":52,"b":53,"t":"N"},{"g":"RB1","a":62,"b":63,"t":"N"},{"g":"RB1","a":69,"b":70,"t":"N"},{"g":"RB1","a":80,"b":81,"t":"N"},{"g":"RB1","a":100,"b":101,"t":"M"},{"g":"RB1","a":114,"b":116,"t":"N"},{"g":"RB1","a":162,"b":163,"t":"N"},{"g":"RB1","a":167,"b":168,"t":"N"},{"g":"RB1","a":184,"b":185,"t":"N"},
{"g":"ERBB2","a":6,"b":7,"t":"M"},{"g":"ERBB2","a":23,"b":24,"t":"M"},{"g":"ERBB2","a":29,"b":30,"t":"M"},{"g":"ERBB2","a":33,"b":34,"t":"M"},{"g":"ERBB2","a":45,"b":47,"t":"H"},{"g":"ERBB2","a":57,"b":58,"t":"M"},{"g":"ERBB2","a":83,"b":85,"t":"M"},{"g":"ERBB2","a":104,"b":105,"t":"M"},{"g":"ERBB2","a":110,"b":112,"t":"M"},{"g":"ERBB2","a":191,"b":192,"t":"M"},
{"g":"FAT4","a":8,"b":9,"t":"M"},{"g":"FAT4","a":13,"b":14,"t":"N"},{"g":"FAT4","a":26,"b":27,"t":"M"},{"g":"FAT4","a":38,"b":39,"t":"M"},{"g":"FAT4","a":40,"b":41,"t":"M"},{"g":"FAT4","a":78,"b":79,"t":"M"},{"g":"FAT4","a":98,"b":100,"t":"H"},{"g":"FAT4","a":111,"b":112,"t":"M"},{"g":"FAT4","a":143,"b":145,"t":"M"},{"g":"FAT4","a":163,"b":164,"t":"M"},{"g":"FAT4","a":186,"b":187,"t":"M"},
{"g":"ZFHX4","a":3,"b":4,"t":"N"},{"g":"ZFHX4","a":21,"b":22,"t":"M"},{"g":"ZFHX4","a":33,"b":37,"t":"M"},{"g":"ZFHX4","a":68,"b":69,"t":"M"},{"g":"ZFHX4","a":82,"b":83,"t":"M"},{"g":"ZFHX4","a":98,"b":100,"t":"H"},{"g":"ZFHX4","a":100,"b":101,"t":"M"},{"g":"ZFHX4","a":116,"b":118,"t":"M"},{"g":"ZFHX4","a":191,"b":193,"t":"M"}
],
"cellsD":[
{"g":"TP53","a":0,"b":37,"t":"M"},{"g":"TP53","a":88,"b":128,"t":"M"},{"g":"TP53","a":2,"b":4,"t":"N"},{"g":"TP53","a":6,"b":7,"t":"N"},{"g":"TP53","a":8,"b":9,"t":"H"},{"g":"TP53","a":12,"b":13,"t":"N"},{"g":"TP53","a":20,"b":23,"t":"H"},{"g":"TP53","a":24,"b":25,"t":"N"},{"g":"TP53","a":27,"b":28,"t":"N"},{"g":"TP53","a":31,"b":33,"t":"N"},{"g":"TP53","a":33,"b":34,"t":"H"},{"g":"TP53","a":36,"b":37,"t":"H"},{"g":"TP53","a":88,"b":90,"t":"N"},{"g":"TP53","a":96,"b":97,"t":"H"},{"g":"TP53","a":103,"b":104,"t":"N"},{"g":"TP53","a":112,"b":113,"t":"N"},{"g":"TP53","a":116,"b":117,"t":"N"},
{"g":"TTN","a":0,"b":86,"t":"M"},{"g":"TTN","a":0,"b":2,"t":"H"},{"g":"TTN","a":4,"b":6,"t":"H"},{"g":"TTN","a":7,"b":9,"t":"H"},{"g":"TTN","a":12,"b":16,"t":"H"},{"g":"TTN","a":18,"b":20,"t":"H"},{"g":"TTN","a":24,"b":26,"t":"H"},{"g":"TTN","a":28,"b":29,"t":"H"},{"g":"TTN","a":41,"b":48,"t":"H"},{"g":"TTN","a":49,"b":54,"t":"H"},{"g":"TTN","a":55,"b":56,"t":"H"},{"g":"TTN","a":59,"b":60,"t":"H"},{"g":"TTN","a":60,"b":61,"t":"N"},{"g":"TTN","a":64,"b":67,"t":"H"},{"g":"TTN","a":71,"b":74,"t":"H"},{"g":"TTN","a":83,"b":84,"t":"H"},{"g":"TTN","a":85,"b":86,"t":"N"},
{"g":"MUC16","a":0,"b":2,"t":"N"},{"g":"MUC16","a":5,"b":6,"t":"H"},{"g":"MUC16","a":6,"b":7,"t":"N"},{"g":"MUC16","a":11,"b":13,"t":"H"},{"g":"MUC16","a":15,"b":16,"t":"N"},{"g":"MUC16","a":37,"b":43,"t":"M"},{"g":"MUC16","a":43,"b":48,"t":"H"},{"g":"MUC16","a":88,"b":89,"t":"H"},{"g":"MUC16","a":90,"b":91,"t":"H"},{"g":"MUC16","a":91,"b":97,"t":"M"},{"g":"MUC16","a":127,"b":138,"t":"M"},{"g":"MUC16","a":132,"b":133,"t":"N"},{"g":"MUC16","a":134,"b":135,"t":"N"},
{"g":"PIK3CA","a":0,"b":5,"t":"M"},{"g":"PIK3CA","a":15,"b":18,"t":"M"},{"g":"PIK3CA","a":38,"b":39,"t":"H"},{"g":"PIK3CA","a":40,"b":41,"t":"M"},{"g":"PIK3CA","a":50,"b":59,"t":"M"},{"g":"PIK3CA","a":52,"b":53,"t":"H"},{"g":"PIK3CA","a":88,"b":90,"t":"H"},{"g":"PIK3CA","a":97,"b":100,"t":"M"},{"g":"PIK3CA","a":138,"b":143,"t":"H"},{"g":"PIK3CA","a":143,"b":151,"t":"M"},
{"g":"KMT2D","a":0,"b":2,"t":"N"},{"g":"KMT2D","a":6,"b":7,"t":"H"},{"g":"KMT2D","a":7,"b":8,"t":"M"},{"g":"KMT2D","a":9,"b":10,"t":"H"},{"g":"KMT2D","a":13,"b":14,"t":"N"},{"g":"KMT2D","a":18,"b":19,"t":"H"},{"g":"KMT2D","a":39,"b":41,"t":"N"},{"g":"KMT2D","a":43,"b":44,"t":"H"},{"g":"KMT2D","a":48,"b":50,"t":"N"},{"g":"KMT2D","a":51,"b":52,"t":"M"},{"g":"KMT2D","a":65,"b":66,"t":"M"},{"g":"KMT2D","a":67,"b":70,"t":"H"},{"g":"KMT2D","a":90,"b":91,"t":"H"},{"g":"KMT2D","a":103,"b":105,"t":"H"},{"g":"KMT2D","a":107,"b":111,"t":"N"},{"g":"KMT2D","a":145,"b":146,"t":"M"},{"g":"KMT2D","a":152,"b":153,"t":"M"},{"g":"KMT2D","a":166,"b":168,"t":"H"},{"g":"KMT2D","a":170,"b":172,"t":"N"},
{"g":"SYNE1","a":3,"b":5,"t":"N"},{"g":"SYNE1","a":6,"b":7,"t":"H"},{"g":"SYNE1","a":9,"b":10,"t":"M"},{"g":"SYNE1","a":15,"b":16,"t":"M"},{"g":"SYNE1","a":19,"b":20,"t":"H"},{"g":"SYNE1","a":20,"b":26,"t":"M"},{"g":"SYNE1","a":39,"b":40,"t":"M"},{"g":"SYNE1","a":44,"b":45,"t":"M"},{"g":"SYNE1","a":53,"b":56,"t":"M"},{"g":"SYNE1","a":61,"b":62,"t":"M"},{"g":"SYNE1","a":66,"b":67,"t":"M"},{"g":"SYNE1","a":70,"b":71,"t":"N"},{"g":"SYNE1","a":93,"b":94,"t":"M"},{"g":"SYNE1","a":104,"b":105,"t":"H"},{"g":"SYNE1","a":112,"b":115,"t":"H"},{"g":"SYNE1","a":172,"b":174,"t":"M"},
{"g":"ARID1A","a":0,"b":1,"t":"H"},{"g":"ARID1A","a":3,"b":4,"t":"M"},{"g":"ARID1A","a":7,"b":8,"t":"M"},{"g":"ARID1A","a":11,"b":12,"t":"H"},{"g":"ARID1A","a":20,"b":21,"t":"H"},{"g":"ARID1A","a":22,"b":23,"t":"M"},{"g":"ARID1A","a":25,"b":26,"t":"N"},{"g":"ARID1A","a":40,"b":41,"t":"N"},{"g":"ARID1A","a":48,"b":49,"t":"N"},{"g":"ARID1A","a":58,"b":59,"t":"N"},{"g":"ARID1A","a":65,"b":66,"t":"N"},{"g":"ARID1A","a":71,"b":74,"t":"H"},{"g":"ARID1A","a":97,"b":98,"t":"M"},{"g":"ARID1A","a":101,"b":102,"t":"M"},{"g":"ARID1A","a":105,"b":106,"t":"N"},{"g":"ARID1A","a":108,"b":109,"t":"M"},{"g":"ARID1A","a":115,"b":118,"t":"N"},{"g":"ARID1A","a":133,"b":134,"t":"N"},{"g":"ARID1A","a":146,"b":148,"t":"H"},{"g":"ARID1A","a":155,"b":156,"t":"H"},{"g":"ARID1A","a":174,"b":177,"t":"N"},{"g":"ARID1A","a":178,"b":179,"t":"M"},
{"g":"KDM6A","a":2,"b":6,"t":"M"},{"g":"KDM6A","a":9,"b":10,"t":"M"},{"g":"KDM6A","a":19,"b":20,"t":"M"},{"g":"KDM6A","a":41,"b":42,"t":"M"},{"g":"KDM6A","a":50,"b":53,"t":"N"},{"g":"KDM6A","a":60,"b":61,"t":"N"},{"g":"KDM6A","a":101,"b":102,"t":"N"},{"g":"KDM6A","a":106,"b":107,"t":"M"},{"g":"KDM6A","a":119,"b":122,"t":"N"},{"g":"KDM6A","a":128,"b":129,"t":"N"},{"g":"KDM6A","a":135,"b":136,"t":"N"},{"g":"KDM6A","a":140,"b":141,"t":"N"},{"g":"KDM6A","a":148,"b":150,"t":"N"},{"g":"KDM6A","a":155,"b":159,"t":"H"},{"g":"KDM6A","a":165,"b":166,"t":"M"},{"g":"KDM6A","a":173,"b":174,"t":"M"},{"g":"KDM6A","a":179,"b":183,"t":"N"},
{"g":"FGFR3","a":39,"b":42,"t":"M"},{"g":"FGFR3","a":48,"b":51,"t":"M"},{"g":"FGFR3","a":59,"b":65,"t":"M"},{"g":"FGFR3","a":87,"b":88,"t":"M"},{"g":"FGFR3","a":100,"b":103,"t":"M"},{"g":"FGFR3","a":128,"b":132,"t":"M"},{"g":"FGFR3","a":138,"b":145,"t":"M"},{"g":"FGFR3","a":151,"b":156,"t":"M"},{"g":"FGFR3","a":156,"b":157,"t":"H"},{"g":"FGFR3","a":159,"b":165,"t":"M"},
{"g":"RYR2","a":1,"b":2,"t":"M"},{"g":"RYR2","a":6,"b":7,"t":"M"},{"g":"RYR2","a":9,"b":10,"t":"M"},{"g":"RYR2","a":18,"b":19,"t":"M"},{"g":"RYR2","a":23,"b":24,"t":"M"},{"g":"RYR2","a":27,"b":28,"t":"H"},{"g":"RYR2","a":38,"b":39,"t":"M"},{"g":"RYR2","a":51,"b":52,"t":"M"},{"g":"RYR2","a":55,"b":56,"t":"M"},{"g":"RYR2","a":88,"b":89,"t":"M"},{"g":"RYR2","a":90,"b":91,"t":"M"},{"g":"RYR2","a":98,"b":99,"t":"N"},{"g":"RYR2","a":119,"b":120,"t":"N"},{"g":"RYR2","a":121,"b":122,"t":"M"},{"g":"RYR2","a":129,"b":130,"t":"M"},{"g":"RYR2","a":149,"b":151,"t":"M"},{"g":"RYR2","a":153,"b":154,"t":"M"},{"g":"RYR2","a":161,"b":163,"t":"N"},{"g":"RYR2","a":166,"b":167,"t":"N"},{"g":"RYR2","a":173,"b":174,"t":"M"},{"g":"RYR2","a":187,"b":188,"t":"N"},
{"g":"MACF1","a":3,"b":5,"t":"M"},{"g":"MACF1","a":12,"b":13,"t":"N"},{"g":"MACF1","a":19,"b":23,"t":"M"},{"g":"MACF1","a":26,"b":27,"t":"H"},{"g":"MACF1","a":39,"b":40,"t":"H"},{"g":"MACF1","a":43,"b":44,"t":"N"},{"g":"MACF1","a":48,"b":50,"t":"H"},{"g":"MACF1","a":53,"b":54,"t":"M"},{"g":"MACF1","a":67,"b":68,"t":"M"},{"g":"MACF1","a":71,"b":72,"t":"M"},{"g":"MACF1","a":76,"b":78,"t":"H"},{"g":"MACF1","a":78,"b":79,"t":"M"},{"g":"MACF1","a":88,"b":89,"t":"M"},{"g":"MACF1","a":91,"b":92,"t":"M"},{"g":"MACF1","a":107,"b":108,"t":"M"},{"g":"MACF1","a":114,"b":115,"t":"M"},{"g":"MACF1","a":128,"b":129,"t":"M"},{"g":"MACF1","a":135,"b":136,"t":"M"},{"g":"MACF1","a":142,"b":143,"t":"M"},{"g":"MACF1","a":147,"b":148,"t":"M"},{"g":"MACF1","a":176,"b":177,"t":"M"},{"g":"MACF1","a":184,"b":186,"t":"M"},
{"g":"HMCN1","a":1,"b":2,"t":"M"},{"g":"HMCN1","a":3,"b":4,"t":"M"},{"g":"HMCN1","a":6,"b":7,"t":"M"},{"g":"HMCN1","a":9,"b":10,"t":"M"},{"g":"HMCN1","a":15,"b":16,"t":"M"},{"g":"HMCN1","a":22,"b":23,"t":"N"},{"g":"HMCN1","a":27,"b":31,"t":"M"},{"g":"HMCN1","a":44,"b":45,"t":"M"},{"g":"HMCN1","a":51,"b":52,"t":"M"},{"g":"HMCN1","a":62,"b":63,"t":"M"},{"g":"HMCN1","a":70,"b":72,"t":"M"},{"g":"HMCN1","a":79,"b":80,"t":"H"},{"g":"HMCN1","a":114,"b":115,"t":"M"},{"g":"HMCN1","a":132,"b":133,"t":"M"},{"g":"HMCN1","a":157,"b":158,"t":"N"},{"g":"HMCN1","a":176,"b":177,"t":"M"},{"g":"HMCN1","a":179,"b":180,"t":"M"},
{"g":"OBSCN","a":1,"b":2,"t":"M"},{"g":"OBSCN","a":15,"b":16,"t":"M"},{"g":"OBSCN","a":20,"b":21,"t":"M"},{"g":"OBSCN","a":24,"b":25,"t":"M"},{"g":"OBSCN","a":29,"b":32,"t":"M"},{"g":"OBSCN","a":46,"b":47,"t":"M"},{"g":"OBSCN","a":50,"b":51,"t":"M"},{"g":"OBSCN","a":54,"b":56,"t":"M"},{"g":"OBSCN","a":57,"b":60,"t":"M"},{"g":"OBSCN","a":66,"b":67,"t":"M"},{"g":"OBSCN","a":72,"b":73,"t":"M"},{"g":"OBSCN","a":77,"b":78,"t":"M"},{"g":"OBSCN","a":99,"b":100,"t":"H"},{"g":"OBSCN","a":103,"b":104,"t":"H"},{"g":"OBSCN","a":124,"b":125,"t":"M"},{"g":"OBSCN","a":131,"b":132,"t":"M"},{"g":"OBSCN","a":161,"b":162,"t":"M"},
{"g":"ATM","a":7,"b":8,"t":"M"},{"g":"ATM","a":10,"b":11,"t":"N"},{"g":"ATM","a":20,"b":21,"t":"M"},{"g":"ATM","a":39,"b":40,"t":"M"},{"g":"ATM","a":47,"b":49,"t":"M"},{"g":"ATM","a":51,"b":52,"t":"N"},{"g":"ATM","a":52,"b":53,"t":"M"},{"g":"ATM","a":71,"b":72,"t":"M"},{"g":"ATM","a":74,"b":75,"t":"M"},{"g":"ATM","a":78,"b":80,"t":"N"},{"g":"ATM","a":94,"b":96,"t":"H"},{"g":"ATM","a":97,"b":98,"t":"M"},{"g":"ATM","a":141,"b":142,"t":"M"},{"g":"ATM","a":168,"b":169,"t":"H"},{"g":"ATM","a":189,"b":190,"t":"M"},
{"g":"EP300","a":0,"b":1,"t":"N"},{"g":"EP300","a":18,"b":20,"t":"M"},{"g":"EP300","a":27,"b":28,"t":"M"},{"g":"EP300","a":34,"b":35,"t":"M"},{"g":"EP300","a":48,"b":50,"t":"H"},{"g":"EP300","a":55,"b":56,"t":"N"},{"g":"EP300","a":91,"b":92,"t":"N"},{"g":"EP300","a":100,"b":101,"t":"N"},{"g":"EP300","a":108,"b":109,"t":"N"},{"g":"EP300","a":113,"b":114,"t":"M"},{"g":"EP300","a":130,"b":131,"t":"M"},{"g":"EP300","a":139,"b":140,"t":"N"},{"g":"EP300","a":143,"b":144,"t":"H"},{"g":"EP300","a":152,"b":153,"t":"M"},{"g":"EP300","a":181,"b":182,"t":"N"},
{"g":"KMT2C","a":2,"b":3,"t":"N"},{"g":"KMT2C","a":5,"b":6,"t":"N"},{"g":"KMT2C","a":11,"b":12,"t":"N"},{"g":"KMT2C","a":16,"b":19,"t":"M"},{"g":"KMT2C","a":45,"b":46,"t":"H"},{"g":"KMT2C","a":65,"b":66,"t":"N"},{"g":"KMT2C","a":70,"b":71,"t":"H"},{"g":"KMT2C","a":75,"b":76,"t":"M"},{"g":"KMT2C","a":94,"b":95,"t":"M"},{"g":"KMT2C","a":101,"b":102,"t":"N"},{"g":"KMT2C","a":110,"b":111,"t":"M"},{"g":"KMT2C","a":130,"b":132,"t":"N"},{"g":"KMT2C","a":135,"b":136,"t":"M"},{"g":"KMT2C","a":158,"b":159,"t":"N"},{"g":"KMT2C","a":165,"b":166,"t":"M"},
{"g":"RB1","a":10,"b":12,"t":"N"},{"g":"RB1","a":16,"b":20,"t":"N"},{"g":"RB1","a":21,"b":24,"t":"N"},{"g":"RB1","a":33,"b":34,"t":"N"},{"g":"RB1","a":36,"b":37,"t":"M"},{"g":"RB1","a":55,"b":56,"t":"N"},{"g":"RB1","a":71,"b":72,"t":"N"},{"g":"RB1","a":96,"b":97,"t":"N"},{"g":"RB1","a":108,"b":110,"t":"N"},{"g":"RB1","a":122,"b":123,"t":"N"},{"g":"RB1","a":173,"b":174,"t":"M"},{"g":"RB1","a":191,"b":193,"t":"N"},
{"g":"ERBB2","a":7,"b":8,"t":"M"},{"g":"ERBB2","a":13,"b":14,"t":"M"},{"g":"ERBB2","a":20,"b":22,"t":"H"},{"g":"ERBB2","a":22,"b":23,"t":"M"},{"g":"ERBB2","a":28,"b":29,"t":"M"},{"g":"ERBB2","a":34,"b":35,"t":"M"},{"g":"ERBB2","a":39,"b":40,"t":"M"},{"g":"ERBB2","a":42,"b":43,"t":"H"},{"g":"ERBB2","a":64,"b":65,"t":"M"},{"g":"ERBB2","a":68,"b":69,"t":"M"},{"g":"ERBB2","a":71,"b":74,"t":"M"},{"g":"ERBB2","a":116,"b":117,"t":"M"},{"g":"ERBB2","a":122,"b":124,"t":"M"},{"g":"ERBB2","a":150,"b":152,"t":"M"},{"g":"ERBB2","a":184,"b":185,"t":"M"},
{"g":"FAT4","a":1,"b":2,"t":"M"},{"g":"FAT4","a":10,"b":11,"t":"H"},{"g":"FAT4","a":20,"b":21,"t":"N"},{"g":"FAT4","a":26,"b":27,"t":"H"},{"g":"FAT4","a":32,"b":34,"t":"M"},{"g":"FAT4","a":39,"b":40,"t":"N"},{"g":"FAT4","a":44,"b":46,"t":"H"},{"g":"FAT4","a":65,"b":66,"t":"N"},{"g":"FAT4","a":71,"b":72,"t":"H"},{"g":"FAT4","a":73,"b":74,"t":"H"},{"g":"FAT4","a":75,"b":76,"t":"N"},{"g":"FAT4","a":88,"b":89,"t":"H"},{"g":"FAT4","a":91,"b":92,"t":"M"},{"g":"FAT4","a":97,"b":98,"t":"H"},{"g":"FAT4","a":98,"b":99,"t":"N"},{"g":"FAT4","a":104,"b":105,"t":"M"},{"g":"FAT4","a":115,"b":116,"t":"N"},{"g":"FAT4","a":140,"b":141,"t":"N"},{"g":"FAT4","a":166,"b":167,"t":"M"},{"g":"FAT4","a":188,"b":189,"t":"N"},
{"g":"ZFHX4","a":6,"b":7,"t":"M"},{"g":"ZFHX4","a":9,"b":10,"t":"M"},{"g":"ZFHX4","a":10,"b":11,"t":"M"},{"g":"ZFHX4","a":19,"b":20,"t":"M"},{"g":"ZFHX4","a":24,"b":25,"t":"M"},{"g":"ZFHX4","a":32,"b":33,"t":"M"},{"g":"ZFHX4","a":43,"b":44,"t":"M"},{"g":"ZFHX4","a":47,"b":48,"t":"M"},{"g":"ZFHX4","a":50,"b":51,"t":"M"},{"g":"ZFHX4","a":58,"b":59,"t":"M"},{"g":"ZFHX4","a":65,"b":66,"t":"M"},{"g":"ZFHX4","a":74,"b":75,"t":"M"},{"g":"ZFHX4","a":98,"b":99,"t":"N"},{"g":"ZFHX4","a":107,"b":109,"t":"H"},{"g":"ZFHX4","a":127,"b":128,"t":"M"},{"g":"ZFHX4","a":135,"b":137,"t":"H"},{"g":"ZFHX4","a":138,"b":139,"t":"M"},{"g":"ZFHX4","a":142,"b":143,"t":"M"},{"g":"ZFHX4","a":179,"b":180,"t":"M"},{"g":"ZFHX4","a":182,"b":183,"t":"M"},{"g":"ZFHX4","a":191,"b":192,"t":"M"}
],
"barsC":[{"g":"TP53","a":0,"b":63,"t":"M"},{"g":"TP53","a":63,"b":77,"t":"N"},{"g":"TP53","a":77,"b":87,"t":"H"},{"g":"TTN","a":0,"b":33,"t":"M"},{"g":"TTN","a":33,"b":36,"t":"N"},{"g":"TTN","a":36,"b":60,"t":"H"},{"g":"MUC16","a":0,"b":25,"t":"M"},{"g":"MUC16","a":25,"b":31,"t":"N"},{"g":"MUC16","a":31,"b":38,"t":"H"},{"g":"PIK3CA","a":0,"b":29,"t":"M"},{"g":"PIK3CA","a":29,"b":32,"t":"H"},{"g":"KMT2D","a":0,"b":8,"t":"M"},{"g":"KMT2D","a":8,"b":20,"t":"N"},{"g":"KMT2D","a":20,"b":28,"t":"H"},{"g":"SYNE1","a":0,"b":15,"t":"M"},{"g":"SYNE1","a":15,"b":18,"t":"N"},{"g":"SYNE1","a":18,"b":26.5,"t":"H"},{"g":"ARID1A","a":0,"b":7,"t":"M"},{"g":"ARID1A","a":7,"b":21,"t":"N"},{"g":"ARID1A","a":21,"b":24,"t":"H"},{"g":"KDM6A","a":0,"b":5,"t":"M"},{"g":"KDM6A","a":5,"b":22,"t":"N"},{"g":"KDM6A","a":22,"b":25,"t":"H"},{"g":"FGFR3","a":0,"b":8,"t":"M"},{"g":"FGFR3","a":8,"b":9,"t":"N"},{"g":"FGFR3","a":9,"b":11,"t":"H"},{"g":"RYR2","a":0,"b":17,"t":"M"},{"g":"RYR2","a":17,"b":18,"t":"N"},{"g":"RYR2","a":18,"b":21,"t":"H"},{"g":"MACF1","a":0,"b":13,"t":"M"},{"g":"MACF1","a":13,"b":14,"t":"N"},{"g":"MACF1","a":14,"b":20,"t":"H"},{"g":"HMCN1","a":0,"b":17,"t":"M"},{"g":"HMCN1","a":17,"b":20,"t":"N"},{"g":"HMCN1","a":20,"b":22,"t":"H"},{"g":"OBSCN","a":0,"b":18,"t":"M"},{"g":"ATM","a":0,"b":10,"t":"M"},{"g":"ATM","a":10,"b":17,"t":"N"},{"g":"ATM","a":17,"b":18,"t":"H"},{"g":"EP300","a":0,"b":14,"t":"M"},{"g":"EP300","a":14,"b":20,"t":"N"},{"g":"EP300","a":20,"b":23,"t":"H"},{"g":"KMT2C","a":0,"b":12,"t":"M"},{"g":"KMT2C","a":12,"b":17.5,"t":"N"},{"g":"KMT2C","a":17.5,"b":21.5,"t":"H"},{"g":"RB1","a":0,"b":3,"t":"M"},{"g":"RB1","a":3,"b":17,"t":"N"},{"g":"RB1","a":17,"b":20,"t":"H"},{"g":"ERBB2","a":0,"b":13,"t":"M"},{"g":"ERBB2","a":13,"b":15,"t":"H"},{"g":"FAT4","a":0,"b":10,"t":"M"},{"g":"FAT4","a":10,"b":11,"t":"N"},{"g":"FAT4","a":11,"b":13,"t":"H"},{"g":"ZFHX4","a":0,"b":13,"t":"M"},{"g":"ZFHX4","a":13,"b":14,"t":"N"},{"g":"ZFHX4","a":14,"b":15,"t":"H"}],
"barsD":[{"g":"TP53","a":0,"b":52,"t":"M"},{"g":"TP53","a":52,"b":68,"t":"N"},{"g":"TP53","a":68,"b":73.5,"t":"H"},{"g":"TTN","a":0,"b":45,"t":"M"},{"g":"TTN","a":45,"b":48,"t":"N"},{"g":"TTN","a":48,"b":81,"t":"H"},{"g":"MUC16","a":0,"b":30,"t":"M"},{"g":"MUC16","a":30,"b":34,"t":"N"},{"g":"MUC16","a":34,"b":43,"t":"H"},{"g":"PIK3CA","a":0,"b":35,"t":"M"},{"g":"PIK3CA","a":35,"b":39,"t":"H"},{"g":"KMT2D","a":0,"b":16,"t":"M"},{"g":"KMT2D","a":16,"b":30,"t":"N"},{"g":"KMT2D","a":30,"b":37,"t":"H"},{"g":"SYNE1","a":0,"b":25,"t":"M"},{"g":"SYNE1","a":25,"b":30,"t":"N"},{"g":"SYNE1","a":30,"b":33,"t":"H"},{"g":"ARID1A","a":0,"b":11,"t":"M"},{"g":"ARID1A","a":11,"b":25,"t":"N"},{"g":"ARID1A","a":25,"b":33,"t":"H"},{"g":"KDM6A","a":0,"b":16,"t":"M"},{"g":"KDM6A","a":16,"b":31,"t":"N"},{"g":"KDM6A","a":31,"b":32,"t":"H"},{"g":"FGFR3","a":0,"b":37,"t":"M"},{"g":"FGFR3","a":37,"b":39,"t":"H"},{"g":"RYR2","a":0,"b":22,"t":"M"},{"g":"RYR2","a":22,"b":27.5,"t":"N"},{"g":"MACF1","a":0,"b":23,"t":"M"},{"g":"MACF1","a":23,"b":25,"t":"N"},{"g":"MACF1","a":25,"b":29,"t":"H"},{"g":"HMCN1","a":0,"b":25,"t":"M"},{"g":"HMCN1","a":25,"b":26,"t":"N"},{"g":"OBSCN","a":0,"b":19,"t":"M"},{"g":"OBSCN","a":19,"b":21,"t":"H"},{"g":"ATM","a":0,"b":16,"t":"M"},{"g":"ATM","a":16,"b":19,"t":"N"},{"g":"ATM","a":19,"b":21,"t":"H"},{"g":"EP300","a":0,"b":10,"t":"M"},{"g":"EP300","a":10,"b":16,"t":"N"},{"g":"EP300","a":16,"b":18,"t":"H"},{"g":"KMT2C","a":0,"b":11.5,"t":"M"},{"g":"KMT2C","a":11.5,"b":18.5,"t":"N"},{"g":"KMT2C","a":18.5,"b":19.5,"t":"H"},{"g":"RB1","a":0,"b":2.5,"t":"M"},{"g":"RB1","a":2.5,"b":18.5,"t":"N"},{"g":"RB1","a":18.5,"b":19,"t":"H"},{"g":"ERBB2","a":0,"b":20,"t":"M"},{"g":"ERBB2","a":20,"b":22,"t":"H"},{"g":"FAT4","a":0,"b":11,"t":"M"},{"g":"FAT4","a":11,"b":19,"t":"N"},{"g":"FAT4","a":19,"b":24,"t":"H"},{"g":"ZFHX4","a":0,"b":16.5,"t":"M"},{"g":"ZFHX4","a":16.5,"b":18.5,"t":"N"},{"g":"ZFHX4","a":18.5,"b":19.5,"t":"H"}],
"riskC":[{"risk":"high","label":"Risk"}],
"riskD":[{"risk":"low","label":"Risk"}]
},
"layer":[
{"layer":[
{"data":{"name":"km"},"mark":{"type":"area","interpolate":"step-after","opacity":0.32},"encoding":{
"x":{"field":"t","type":"quantitative","scale":{"domain":[-0.73,15.8],"range":[39,349],"nice":false,"zero":false},"axis":{"orient":"bottom","offset":-367,"values":[0,1,2,3,4,5,6,7,8,9,10,11,12,13,14,15],"title":"Time(years)","titleFontSize":11.7,"titleFontWeight":"normal","titleColor":"#333","titlePadding":1,"labelFontSize":9,"labelColor":"#333","tickColor":"#333","domainColor":"#222","domainWidth":1,"tickSize":3,"labelPadding":2,"labelAngle":0}},
"y":{"field":"lo","type":"quantitative","scale":{"domain":[-0.05,1.05],"range":[256,29.4],"nice":false,"zero":false},"axis":{"orient":"left","offset":-39,"values":[0,0.25,0.5,0.75,1],"format":".2f","title":"Survival probability","titleFontSize":10.7,"titleFontWeight":"normal","titleColor":"#333","titlePadding":2,"labelFontSize":10,"labelColor":"#333","tickColor":"#333","domainColor":"#222","domainWidth":1,"tickSize":3,"labelPadding":2}},
"y2":{"field":"hi"},
"fill":{"field":"g","type":"nominal","scale":{"domain":["High","Low"],"range":["#e00000","#0000ff"]},"legend":{"orient":"none","legendX":147,"legendY":1,"direction":"horizontal","title":"TMB","titleOrient":"left","titleFontSize":8,"titleFontWeight":"normal","titleColor":"#333","titlePadding":5,"labelFontSize":8,"labelColor":"#333","labelOffset":4,"symbolType":"square","symbolSize":180,"symbolOpacity":0.35,"symbolStrokeWidth":0,"columnPadding":5}}}},
{"data":{"name":"km"},"mark":{"type":"line","interpolate":"step-after","strokeWidth":1.4},"encoding":{
"x":{"field":"t","type":"quantitative","scale":{"domain":[-0.73,15.8],"range":[39,349],"nice":false,"zero":false}},
"y":{"field":"s","type":"quantitative","scale":{"domain":[-0.05,1.05],"range":[256,29.4],"nice":false,"zero":false}},
"stroke":{"field":"g","type":"nominal","scale":{"range":["#e00000","#0000ff"]},"legend":{"orient":"none","legendX":169,"legendY":1,"direction":"horizontal","title":null,"labelExpr":"''","labelFontSize":8,"labelOffset":4,"symbolType":"M-1,0H1M0,-0.45V0.45","symbolSize":180,"symbolStrokeWidth":1.4,"columnPadding":22.6}}}},
{"data":{"name":"km"},"transform":[{"filter":"datum.c==1"}],"mark":{"type":"tick","orient":"vertical","size":6,"thickness":0.9},"encoding":{
"x":{"field":"t","type":"quantitative","scale":{"domain":[-0.73,15.8],"range":[39,349],"nice":false,"zero":false}},
"y":{"field":"s","type":"quantitative","scale":{"domain":[-0.05,1.05],"range":[256,29.4],"nice":false,"zero":false}},
"color":{"field":"g","type":"nominal","scale":{"domain":["High","Low"],"range":["#e00000","#0000ff"]},"legend":null}}},
{"data":{"values":[{}]},"mark":{"type":"text","align":"left","baseline":"middle","fontSize":13.5,"color":"#222"},"encoding":{"x":{"datum":0.28,"type":"quantitative","scale":{"domain":[-0.73,15.8],"range":[39,349],"nice":false,"zero":false}},"y":{"datum":0.194,"type":"quantitative","scale":{"domain":[-0.05,1.05],"range":[256,29.4],"nice":false,"zero":false}},"text":{"value":"p=0.013"}}},
{"data":{"values":[{}]},"mark":{"type":"text","align":"center","baseline":"middle","fontSize":15,"fontWeight":"bold","color":"#000"},"encoding":{"x":{"datum":-2.35,"type":"quantitative","scale":{"domain":[-0.73,15.8],"range":[39,349],"nice":false,"zero":false}},"y":{"datum":1.11,"type":"quantitative","scale":{"domain":[-0.05,1.05],"range":[256,29.4],"nice":false,"zero":false}},"text":{"value":"A"}}}
]},
{"layer":[
{"data":{"name":"box"},"mark":{"type":"rule","strokeWidth":1},"encoding":{
"x":{"field":"pos","type":"quantitative","scale":{"domain":[0.4,2.595],"range":[391,680],"nice":false,"zero":false},"axis":{"orient":"bottom","offset":-366.3,"values":[1,2],"labelExpr":"datum.value==1?'Low−risk':'High−risk'","title":null,"labelFontSize":10.8,"labelColor":"#333","tickColor":"#333","domainColor":"#222","domainWidth":1,"tickSize":3,"labelPadding":3,"labelAngle":0}},
"y":{"field":"q3","type":"quantitative","scale":{"domain":[-0.72,15.19],"range":[256.7,36],"nice":false,"zero":false},"axis":{"orient":"left","offset":-391,"values":[0,5,10,15],"title":"Tumor tmbation burden","titleFontSize":10.5,"titleFontWeight":"normal","titleColor":"#333","titlePadding":4,"labelFontSize":10.5,"labelColor":"#333","tickColor":"#333","domainColor":"#222","domainWidth":1,"tickSize":3,"labelPadding":2}},
"y2":{"field":"hi"},
"stroke":{"field":"g","type":"nominal","sort":["Low−risk","High−risk"],"scale":{"range":["#0000ff","#e00000"]},"legend":{"orient":"none","legendX":478,"legendY":5,"direction":"horizontal","title":null,"labelExpr":"''","labelFontSize":9,"labelOffset":7,"symbolType":"M-1,-0.7H1V0.7H-1ZM0,-0.7V-1.15M0,0.7V1.15M-1,0H1","symbolSize":165,"symbolStrokeWidth":1,"symbolFillColor":"transparent","columnPadding":44}}}},
{"data":{"name":"box"},"mark":{"type":"rule","strokeWidth":1},"encoding":{
"x":{"field":"pos","type":"quantitative","scale":{"domain":[0.4,2.595],"range":[391,680],"nice":false,"zero":false}},
"y":{"field":"lo","type":"quantitative","scale":{"domain":[-0.72,15.19],"range":[256.7,36],"nice":false,"zero":false}},
"y2":{"field":"q1"},
"stroke":{"field":"g","type":"nominal","sort":["Low−risk","High−risk"],"scale":{"range":["#0000ff","#e00000"]},"legend":null}}},
{"data":{"name":"box"},"mark":{"type":"rect","fill":"transparent","strokeWidth":1},"encoding":{
"x":{"field":"xl","type":"quantitative","scale":{"domain":[0.4,2.595],"range":[391,680],"nice":false,"zero":false}},"x2":{"field":"xr"},
"y":{"field":"q1","type":"quantitative","scale":{"domain":[-0.72,15.19],"range":[256.7,36],"nice":false,"zero":false}},"y2":{"field":"q3"},
"stroke":{"field":"g","type":"nominal","sort":["Low−risk","High−risk"],"scale":{"range":["#0000ff","#e00000"]},"legend":null}}},
{"data":{"name":"box"},"mark":{"type":"rule","strokeWidth":2},"encoding":{
"x":{"field":"xl","type":"quantitative","scale":{"domain":[0.4,2.595],"range":[391,680],"nice":false,"zero":false}},"x2":{"field":"xr"},
"y":{"field":"med","type":"quantitative","scale":{"domain":[-0.72,15.19],"range":[256.7,36],"nice":false,"zero":false}},
"stroke":{"field":"g","type":"nominal","sort":["Low−risk","High−risk"],"scale":{"range":["#0000ff","#e00000"]},"legend":null}}},
{"data":{"name":"pts"},"mark":{"type":"circle","size":17,"opacity":1},"encoding":{
"x":{"field":"x","type":"quantitative","scale":{"domain":[0.4,2.595],"range":[391,680],"nice":false,"zero":false}},
"y":{"field":"y","type":"quantitative","scale":{"domain":[-0.72,15.19],"range":[256.7,36],"nice":false,"zero":false}},
"fill":{"field":"g","type":"nominal","scale":{"domain":["Low−risk","High−risk"],"range":["#0000ff","#e00000"]},"legend":{"orient":"none","legendX":478,"legendY":5,"direction":"horizontal","title":null,"labelFontSize":9,"labelColor":"#333","labelOffset":7,"symbolType":"M0.35,0A0.35,0.35 0 1 1 -0.35,0A0.35,0.35 0 1 1 0.35,0Z","symbolSize":165,"symbolStrokeWidth":0,"columnPadding":7}}}},
{"data":{"name":"bracket"},"mark":{"type":"line","color":"#333","strokeWidth":0.8},"encoding":{"x":{"field":"x","type":"quantitative","scale":{"domain":[0.4,2.595],"range":[391,680],"nice":false,"zero":false}},"y":{"field":"y","type":"quantitative","scale":{"domain":[-0.72,15.19],"range":[256.7,36],"nice":false,"zero":false}},"order":{"value":null}}},
{"data":{"values":[{}]},"mark":{"type":"text","align":"center","baseline":"bottom","fontSize":10,"color":"#222","dy":-1},"encoding":{"x":{"datum":1.5,"type":"quantitative","scale":{"domain":[0.4,2.595],"range":[391,680],"nice":false,"zero":false}},"y":{"datum":14.47,"type":"quantitative","scale":{"domain":[-0.72,15.19],"range":[256.7,36],"nice":false,"zero":false}},"text":{"value":"0.00067"}}},
{"data":{"values":[{}]},"mark":{"type":"text","align":"center","baseline":"middle","fontSize":15,"fontWeight":"bold","color":"#000"},"encoding":{"x":{"datum":0.19,"type":"quantitative","scale":{"domain":[0.4,2.595],"range":[391,680],"nice":false,"zero":false}},"y":{"datum":16.56,"type":"quantitative","scale":{"domain":[-0.72,15.19],"range":[256.7,36],"nice":false,"zero":false}},"text":{"value":"B"}}}
]},
{"layer":[
{"data":{"name":"tmbC"},"mark":{"type":"bar"},"encoding":{"x":{"field":"s","type":"ordinal","scale":{"type":"band","range":[36,259],"paddingInner":0,"paddingOuter":0},"axis":null},"y":{"field":"m","type":"quantitative","stack":null,"scale":{"domain":[0,3277],"range":[362.7,315.7],"nice":false,"zero":false},"axis":{"orient":"left","offset":-33,"values":[0,3277],"format":"d","title":null,"labelFontSize":6.5,"labelColor":"#333","tickColor":"#333","domainColor":"#333","tickSize":3,"labelPadding":2}},"color":{"value":"#649f33"}}},
{"data":{"name":"tmbC"},"mark":{"type":"bar","color":"#d9343c"},"encoding":{"x":{"field":"s","type":"ordinal","scale":{"type":"band","range":[36,259],"paddingInner":0,"paddingOuter":0},"axis":null},"y":{"field":"m","type":"quantitative","stack":null,"scale":{"domain":[0,3277],"range":[362.7,315.7],"nice":false,"zero":false}},"y2":{"field":"t"}}}
]},
{"layer":[
{"data":{"name":"genesC"},"mark":{"type":"rect","color":"#dcdcdc"},"encoding":{"x":{"datum":0,"type":"quantitative","scale":{"domain":[0,193],"range":[36,259],"nice":false,"zero":false},"axis":null},"x2":{"datum":193},"y":{"field":"g","type":"nominal","scale":{"type":"band","domain":["TP53","TTN","MUC16","PIK3CA","KMT2D","SYNE1","ARID1A","KDM6A","FGFR3","RYR2","MACF1","HMCN1","OBSCN","ATM","EP300","KMT2C","RB1","ERBB2","FAT4","ZFHX4"],"range":[366.7,567.3],"paddingInner":0.1,"paddingOuter":0.05},"axis":{"orient":"left","offset":-34.5,"title":null,"ticks":false,"domain":false,"labelFontSize":8.4,"labelFontStyle":"italic","labelColor":"#222","labelPadding":0}}}},
{"data":{"name":"cellsC"},"mark":{"type":"rect","opacity":0.78},"encoding":{"x":{"field":"a","type":"quantitative","scale":{"domain":[0,193],"range":[36,259],"nice":false,"zero":false},"axis":null},"x2":{"field":"b"},"y":{"field":"g","type":"nominal","scale":{"type":"band","domain":["TP53","TTN","MUC16","PIK3CA","KMT2D","SYNE1","ARID1A","KDM6A","FGFR3","RYR2","MACF1","HMCN1","OBSCN","ATM","EP300","KMT2C","RB1","ERBB2","FAT4","ZFHX4"],"range":[366.7,567.3],"paddingInner":0.1,"paddingOuter":0.05}},
"fill":{"field":"t","type":"nominal","scale":{"domain":["M","N","H"],"range":["#6aa339","#d01f26","#000000"]},"legend":{"orient":"none","legendX":5.5,"legendY":594.5,"direction":"vertical","columns":2,"title":null,"labelExpr":"datum.label=='M'?'Missense_Mutation':datum.label=='N'?'Nonsense_Mutation':'Multi_Hit'","labelFontSize":8,"labelColor":"#333","labelOffset":5,"symbolType":"square","symbolSize":12,"symbolOpacity":1,"columnPadding":7,"rowPadding":1.3}}}},
{"data":{"name":"genesC"},"mark":{"type":"text","align":"left","baseline":"middle","fontSize":8.5,"color":"#222","dx":1},"encoding":{"x":{"datum":193,"type":"quantitative","scale":{"domain":[0,193],"range":[36,259],"nice":false,"zero":false},"axis":null},"y":{"field":"g","type":"nominal","scale":{"type":"band","domain":["TP53","TTN","MUC16","PIK3CA","KMT2D","SYNE1","ARID1A","KDM6A","FGFR3","RYR2","MACF1","HMCN1","OBSCN","ATM","EP300","KMT2C","RB1","ERBB2","FAT4","ZFHX4"],"range":[366.7,567.3],"paddingInner":0.1,"paddingOuter":0.05}},"text":{"field":"pct"}}}
]},
{"data":{"name":"barsC"},"mark":{"type":"rect"},"encoding":{"x":{"field":"a","type":"quantitative","scale":{"domain":[0,85],"range":[283,346],"nice":false,"zero":false},"axis":{"orient":"top","offset":-365,"values":[0,85],"title":null,"labelFontSize":6.5,"labelColor":"#333","tickColor":"#333","domainColor":"#333","tickSize":3.5,"labelPadding":2}},"x2":{"field":"b"},"y":{"field":"g","type":"nominal","scale":{"type":"band","domain":["TP53","TTN","MUC16","PIK3CA","KMT2D","SYNE1","ARID1A","KDM6A","FGFR3","RYR2","MACF1","HMCN1","OBSCN","ATM","EP300","KMT2C","RB1","ERBB2","FAT4","ZFHX4"],"range":[366.7,567.3],"paddingInner":0.1,"paddingOuter":0.05},"axis":null},"fill":{"field":"t","type":"nominal","scale":{"domain":["M","N","H"],"range":["#6aa339","#c8202a","#000000"]},"legend":null}}},
{"data":{"name":"riskC"},"mark":{"type":"rect"},"encoding":{"x":{"datum":0,"type":"quantitative","scale":{"domain":[0,193],"range":[36,259],"nice":false,"zero":false},"axis":null},"x2":{"datum":193},"y":{"field":"label","type":"nominal","scale":{"type":"band","range":[570.7,587.7],"paddingInner":0,"paddingOuter":0},"axis":{"orient":"right","offset":-447,"title":null,"ticks":false,"domain":false,"labelFontSize":8.3,"labelColor":"#222","labelPadding":2}},"fill":{"field":"risk","type":"nominal","scale":{"domain":["high","low"],"range":["#e00000","#0000ff"]},"legend":{"orient":"none","legendX":193,"legendY":593.5,"title":"Risk","titleFontSize":8,"titleFontWeight":"normal","titleColor":"#333","titlePadding":4,"labelFontSize":8,"labelColor":"#333","labelOffset":4,"symbolType":"square","symbolSize":12,"symbolOffset":5,"rowPadding":1.3}}}},
{"data":{"values":[{}]},"layer":[
{"mark":{"type":"text","align":"center","baseline":"middle","fontSize":9.9,"fontWeight":"bold","color":"#111"},"encoding":{"x":{"datum":121,"type":"quantitative","scale":{"domain":[0,193],"range":[36,259],"nice":false,"zero":false},"axis":null},"y":{"datum":4162,"type":"quantitative","scale":{"domain":[0,3277],"range":[362.7,315.7],"nice":false,"zero":false},"axis":null},"text":{"value":"Altered in 171 (88.6%) of 193 samples."}}},
{"mark":{"type":"text","align":"center","baseline":"middle","fontSize":15,"fontWeight":"bold","color":"#000"},"encoding":{"x":{"datum":-25,"type":"quantitative","scale":{"domain":[0,193],"range":[36,259],"nice":false,"zero":false},"axis":null},"y":{"datum":4650,"type":"quantitative","scale":{"domain":[0,3277],"range":[362.7,315.7],"nice":false,"zero":false},"axis":null},"text":{"value":"C"}}}
]},
{"layer":[
{"data":{"name":"tmbD"},"mark":{"type":"bar"},"encoding":{"x":{"field":"s","type":"ordinal","scale":{"type":"band","range":[394.7,617.3],"paddingInner":0,"paddingOuter":0},"axis":null},"y":{"field":"m","type":"quantitative","stack":null,"scale":{"domain":[0,703],"range":[362.7,315.7],"nice":false,"zero":false},"axis":{"orient":"left","offset":-391.7,"values":[0,703],"format":"d","title":null,"labelFontSize":6.5,"labelColor":"#333","tickColor":"#333","domainColor":"#333","tickSize":3,"labelPadding":2}},"color":{"value":"#649f33"}}},
{"data":{"name":"tmbD"},"mark":{"type":"bar","color":"#d9343c"},"encoding":{"x":{"field":"s","type":"ordinal","scale":{"type":"band","range":[394.7,617.3],"paddingInner":0,"paddingOuter":0},"axis":null},"y":{"field":"m","type":"quantitative","stack":null,"scale":{"domain":[0,703],"range":[362.7,315.7],"nice":false,"zero":false}},"y2":{"field":"t"}}}
]},
{"layer":[
{"data":{"name":"genesD"},"mark":{"type":"rect","color":"#dcdcdc"},"encoding":{"x":{"datum":0,"type":"quantitative","scale":{"domain":[0,193],"range":[394.7,617.3],"nice":false,"zero":false},"axis":null},"x2":{"datum":193},"y":{"field":"g","type":"nominal","scale":{"type":"band","domain":["TP53","TTN","MUC16","PIK3CA","KMT2D","SYNE1","ARID1A","KDM6A","FGFR3","RYR2","MACF1","HMCN1","OBSCN","ATM","EP300","KMT2C","RB1","ERBB2","FAT4","ZFHX4"],"range":[366.7,567.3],"paddingInner":0.1,"paddingOuter":0.05},"axis":{"orient":"left","offset":-393,"title":null,"ticks":false,"domain":false,"labelFontSize":8.4,"labelFontStyle":"italic","labelColor":"#222","labelPadding":0}}}},
{"data":{"name":"cellsD"},"mark":{"type":"rect","opacity":0.78},"encoding":{"x":{"field":"a","type":"quantitative","scale":{"domain":[0,193],"range":[394.7,617.3],"nice":false,"zero":false},"axis":null},"x2":{"field":"b"},"y":{"field":"g","type":"nominal","scale":{"type":"band","domain":["TP53","TTN","MUC16","PIK3CA","KMT2D","SYNE1","ARID1A","KDM6A","FGFR3","RYR2","MACF1","HMCN1","OBSCN","ATM","EP300","KMT2C","RB1","ERBB2","FAT4","ZFHX4"],"range":[366.7,567.3],"paddingInner":0.1,"paddingOuter":0.05}},
"fill":{"field":"t","type":"nominal","scale":{"domain":["M","N","H"],"range":["#6aa339","#d01f26","#000000"]},"legend":{"orient":"none","legendX":364,"legendY":594.5,"direction":"vertical","columns":2,"title":null,"labelExpr":"datum.label=='M'?'Missense_Mutation':datum.label=='N'?'Nonsense_Mutation':'Multi_Hit'","labelFontSize":8,"labelColor":"#333","labelOffset":5,"symbolType":"square","symbolSize":12,"symbolOpacity":1,"columnPadding":7,"rowPadding":1.3}}}},
{"data":{"name":"genesD"},"mark":{"type":"text","align":"left","baseline":"middle","fontSize":8.5,"color":"#222","dx":1},"encoding":{"x":{"datum":193,"type":"quantitative","scale":{"domain":[0,193],"range":[394.7,617.3],"nice":false,"zero":false},"axis":null},"y":{"field":"g","type":"nominal","scale":{"type":"band","domain":["TP53","TTN","MUC16","PIK3CA","KMT2D","SYNE1","ARID1A","KDM6A","FGFR3","RYR2","MACF1","HMCN1","OBSCN","ATM","EP300","KMT2C","RB1","ERBB2","FAT4","ZFHX4"],"range":[366.7,567.3],"paddingInner":0.1,"paddingOuter":0.05}},"text":{"field":"pct"}}}
]},
{"data":{"name":"barsD"},"mark":{"type":"rect"},"encoding":{"x":{"field":"a","type":"quantitative","scale":{"domain":[0,81],"range":[640.8,704],"nice":false,"zero":false},"axis":{"orient":"top","offset":-365,"values":[0,81],"title":null,"labelFontSize":6.5,"labelColor":"#333","tickColor":"#333","domainColor":"#333","tickSize":3.5,"labelPadding":2}},"x2":{"field":"b"},"y":{"field":"g","type":"nominal","scale":{"type":"band","domain":["TP53","TTN","MUC16","PIK3CA","KMT2D","SYNE1","ARID1A","KDM6A","FGFR3","RYR2","MACF1","HMCN1","OBSCN","ATM","EP300","KMT2C","RB1","ERBB2","FAT4","ZFHX4"],"range":[366.7,567.3],"paddingInner":0.1,"paddingOuter":0.05},"axis":null},"fill":{"field":"t","type":"nominal","scale":{"domain":["M","N","H"],"range":["#6aa339","#c8202a","#000000"]},"legend":null}}},
{"data":{"name":"riskD"},"mark":{"type":"rect"},"encoding":{"x":{"datum":0,"type":"quantitative","scale":{"domain":[0,196],"range":[394.7,617.3],"nice":false,"zero":false},"axis":null},"x2":{"datum":196},"y":{"field":"label","type":"nominal","scale":{"type":"band","range":[570.7,587.7],"paddingInner":0,"paddingOuter":0},"axis":{"orient":"right","offset":-88.5,"title":null,"ticks":false,"domain":false,"labelFontSize":8.3,"labelColor":"#222","labelPadding":2}},"fill":{"field":"risk","type":"nominal","scale":{"domain":["high","low"],"range":["#e00000","#0000ff"]},"legend":{"orient":"none","legendX":551.5,"legendY":593.5,"title":"Risk","titleFontSize":8,"titleFontWeight":"normal","titleColor":"#333","titlePadding":4,"labelFontSize":8,"labelColor":"#333","labelOffset":4,"symbolType":"square","symbolSize":12,"symbolOffset":5,"rowPadding":1.3}}}},
{"data":{"values":[{}]},"layer":[
{"mark":{"type":"text","align":"center","baseline":"middle","fontSize":9.9,"fontWeight":"bold","color":"#111"},"encoding":{"x":{"datum":122.4,"type":"quantitative","scale":{"domain":[0,196],"range":[394.7,617.3],"nice":false,"zero":false},"axis":null},"y":{"datum":893,"type":"quantitative","scale":{"domain":[0,703],"range":[362.7,315.7],"nice":false,"zero":false},"axis":null},"text":{"value":"Altered in 180 (91.84%) of 196 samples."}}},
{"mark":{"type":"text","align":"center","baseline":"middle","fontSize":15,"fontWeight":"bold","color":"#000"},"encoding":{"x":{"datum":-28.8,"type":"quantitative","scale":{"domain":[0,196],"range":[394.7,617.3],"nice":false,"zero":false},"axis":null},"y":{"datum":998,"type":"quantitative","scale":{"domain":[0,703],"range":[362.7,315.7],"nice":false,"zero":false},"axis":null},"text":{"value":"D"}}}
]}
]}
